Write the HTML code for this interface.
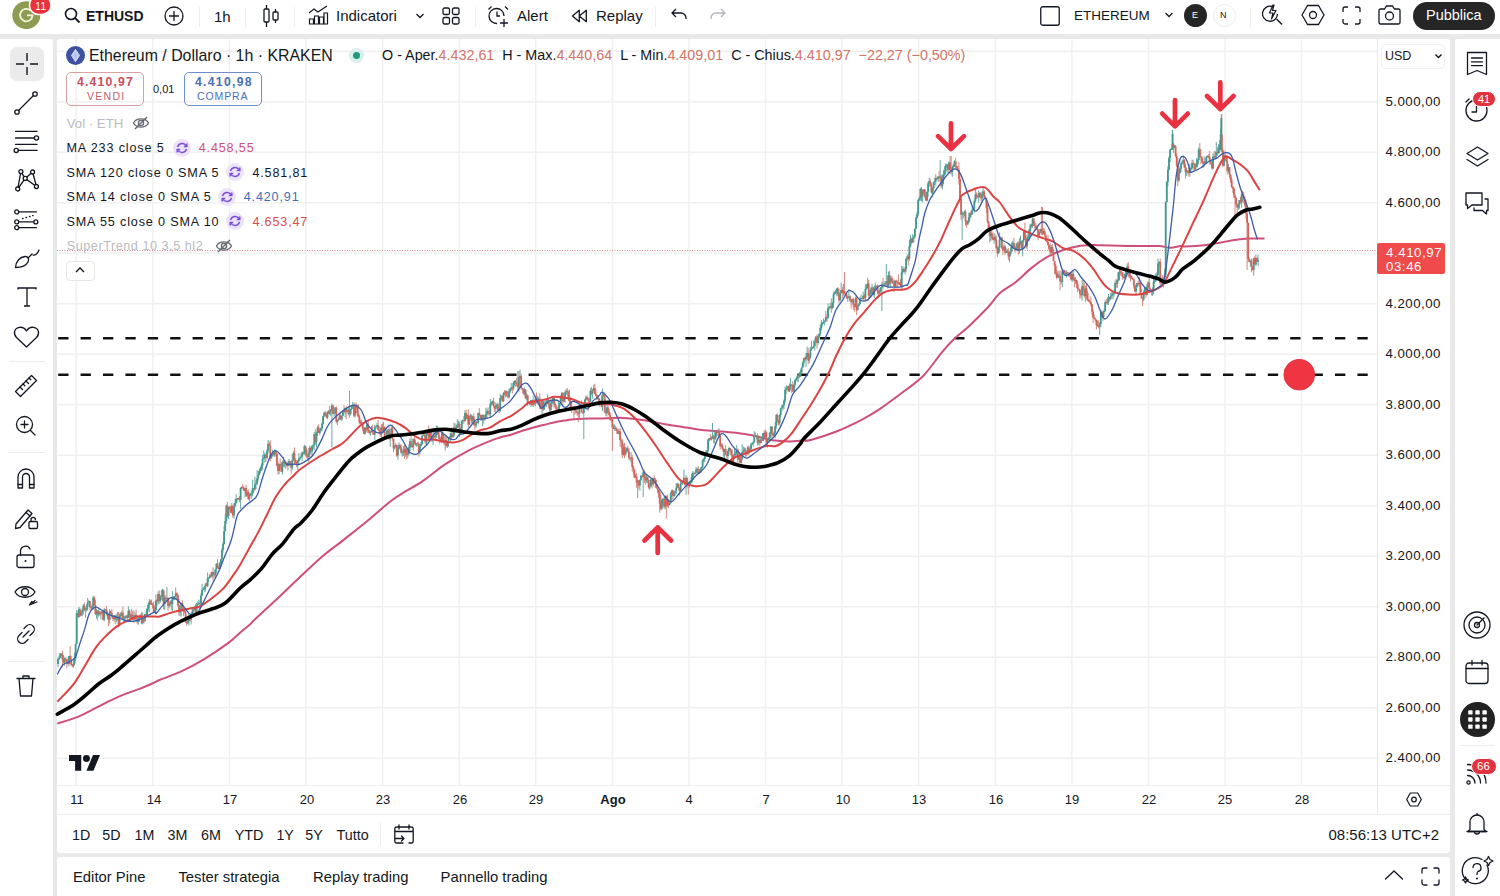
<!DOCTYPE html>
<html><head><meta charset="utf-8">
<style>
*{box-sizing:border-box;margin:0;padding:0}
html,body{width:1500px;height:896px;overflow:hidden;background:#e9e9e9;font-family:"Liberation Sans",sans-serif;color:#131722}
.a{position:absolute}
.t{position:absolute;white-space:nowrap;line-height:1}
.panel{position:absolute;background:#fff}
.ic{position:absolute;overflow:visible}
.ic *{vector-effect:non-scaling-stroke}
</style></head><body>
<!-- panels -->
<div class="panel" style="left:0;top:0;width:1500px;height:34px"></div>
<div class="panel" style="left:0;top:39px;width:53px;height:857px;border-radius:0 3px 0 0"></div>
<div class="panel" style="left:57px;top:39px;width:1393px;height:814px;border-radius:3px"></div>
<div class="panel" style="left:57px;top:857px;width:1393px;height:39px;border-radius:3px 3px 0 0"></div>
<div class="panel" style="left:1455px;top:39px;width:45px;height:857px;border-radius:3px 0 0 0"></div>

<!-- chart svg -->
<svg width="1500" height="896" style="position:absolute;left:0;top:0">
<path d="M76.2,39V785M152.8,39V785M229.4,39V785M306.0,39V785M382.6,39V785M459.2,39V785M535.7,39V785M612.3,39V785M688.9,39V785M765.5,39V785M842.1,39V785M918.7,39V785M995.3,39V785M1071.9,39V785M1148.5,39V785M1225.1,39V785M1301.6,39V785M57,51.2H1377M57,101.7H1377M57,152.2H1377M57,202.7H1377M57,253.2H1377M57,303.8H1377M57,354.3H1377M57,404.8H1377M57,455.3H1377M57,505.8H1377M57,556.3H1377M57,606.8H1377M57,657.3H1377M57,707.8H1377M57,758.3H1377" stroke="#f0f0f0" stroke-width="1.4" fill="none"/>
<path d="M58.2,338.3H1372" stroke="#111" stroke-width="2.4" stroke-dasharray="10.3 12.1" fill="none"/>
<path d="M58.2,374.8H1372" stroke="#111" stroke-width="2.4" stroke-dasharray="10.3 12.1" fill="none"/>
<path d="M57,250.5H1377" stroke="#d98f8f" stroke-width="1" stroke-dasharray="1 1.5" fill="none"/>
<path d="M57.3,723.6 C60.8,722.4 72.3,719.1 78.4,716.6 C84.5,714.1 88.9,711.4 94.1,708.8 C99.3,706.2 104.5,703.4 109.7,700.9 C114.9,698.4 120.1,696.0 125.3,693.9 C130.5,691.8 136.0,690.3 140.9,688.4 C145.8,686.5 151.9,683.6 155.0,682.2 C158.1,680.8 155.0,681.8 159.4,680.0 C163.8,678.2 173.8,674.8 181.3,671.3 C188.9,667.8 196.9,663.5 204.7,658.8 C212.5,654.1 222.1,647.5 228.1,643.1 C234.1,638.7 236.9,635.3 240.6,632.2 C244.2,629.1 247.6,626.6 250.0,624.4 C252.4,622.2 250.3,623.6 255.0,619.2 C259.7,614.8 270.5,605.0 278.0,598.0 C285.5,591.0 292.6,583.9 300.0,577.0 C307.4,570.1 314.9,562.8 322.3,556.5 C329.7,550.2 337.2,545.0 344.6,539.1 C352.1,533.2 359.6,527.4 367.0,521.3 C374.4,515.2 383.8,506.7 389.3,502.3 C394.8,497.9 394.5,498.3 400.0,494.8 C405.5,491.3 414.9,486.4 422.3,481.4 C429.7,476.4 437.2,469.7 444.6,464.7 C452.1,459.7 459.6,455.2 467.0,451.3 C474.4,447.4 483.8,443.6 489.3,441.3 C494.8,439.0 496.4,438.6 500.0,437.5 C503.6,436.4 507.5,435.8 511.2,434.7 C514.9,433.6 518.6,432.0 522.3,430.8 C526.0,429.6 529.8,428.5 533.5,427.5 C537.2,426.5 540.9,425.6 544.6,424.7 C548.3,423.8 552.1,422.6 555.8,421.9 C559.5,421.1 563.3,420.7 567.0,420.2 C570.7,419.7 574.4,419.4 578.1,419.1 C581.8,418.8 585.6,418.6 589.3,418.5 C592.9,418.4 594.5,418.6 600.0,418.5 C605.5,418.4 614.9,417.6 622.3,417.9 C629.7,418.2 637.1,419.1 644.6,420.2 C652.1,421.3 659.5,423.3 667.0,424.6 C674.5,425.9 683.8,427.1 689.3,428.0 C694.8,428.9 694.5,429.1 700.0,429.7 C705.5,430.3 714.9,430.9 722.3,431.6 C729.7,432.3 738.1,433.1 744.6,434.1 C751.1,435.1 756.8,436.5 761.4,437.5 C766.0,438.5 767.9,439.7 772.5,440.3 C777.1,440.9 784.7,441.3 789.3,441.4 C793.9,441.5 796.4,441.0 800.0,440.8 C803.6,440.6 804.8,441.5 810.7,440.0 C816.7,438.5 827.1,435.2 835.7,431.8 C844.3,428.4 855.0,423.2 862.5,419.3 C870.0,415.4 874.1,412.8 880.4,408.6 C886.6,404.4 892.9,399.7 900.0,394.3 C907.1,388.9 916.1,382.9 922.9,376.2 C929.7,369.4 935.7,359.8 940.7,353.8 C945.7,347.8 948.2,344.8 953.1,340.0 C958.0,335.2 964.6,330.4 970.3,325.0 C976.0,319.6 982.5,313.1 987.5,307.8 C992.5,302.5 995.3,297.4 1000.0,293.1 C1004.7,288.8 1010.4,286.4 1015.6,282.2 C1020.8,278.0 1026.1,272.3 1031.3,268.1 C1036.5,263.9 1041.7,260.2 1046.9,257.2 C1052.1,254.2 1057.3,252.0 1062.5,250.2 C1067.7,248.4 1072.9,247.2 1078.1,246.3 C1083.3,245.4 1090.1,245.2 1093.8,245.0 C1097.5,244.8 1093.4,245.1 1100.0,245.3 C1106.6,245.5 1123.7,246.0 1133.5,246.1 C1143.3,246.2 1152.4,245.8 1158.6,246.1 C1164.8,246.4 1166.8,247.8 1170.4,247.8 C1174.0,247.8 1177.9,246.3 1180.4,246.1 C1182.9,245.9 1182.1,246.5 1185.6,246.4 C1189.1,246.3 1196.1,246.1 1201.3,245.6 C1206.5,245.1 1211.7,244.2 1216.9,243.3 C1222.1,242.4 1227.3,241.0 1232.5,240.2 C1237.7,239.4 1242.8,238.9 1248.1,238.6 C1253.4,238.3 1261.8,238.6 1264.5,238.6" stroke="#cf4f7c" stroke-width="2" fill="none"/>
<path d="M58.0,657.7V667.0M59.1,656.2V659.9M60.2,653.2V658.2M64.6,657.4V665.9M69.0,656.1V666.4M73.4,660.6V667.8M74.5,652.6V665.2M75.6,643.8V661.1M76.7,610.0V644.2M78.9,606.9V618.3M81.1,612.4V616.0M82.2,608.4V616.3M83.3,604.0V614.8M86.6,604.4V611.6M87.7,598.0V610.4M88.8,600.1V602.7M92.1,603.6V609.6M93.2,595.6V609.9M96.5,608.9V618.6M98.7,609.1V616.5M100.9,612.7V619.5M102.0,610.2V615.1M104.2,608.1V621.4M105.3,609.1V610.7M109.7,609.1V623.7M114.1,615.2V621.3M116.3,614.0V622.4M117.4,611.9V620.7M119.6,613.3V626.5M120.7,612.2V618.0M121.8,610.7V618.1M124.0,615.4V622.2M125.1,616.0V619.4M126.2,614.9V618.8M128.4,606.3V618.0M131.7,608.8V619.9M135.0,612.6V620.3M138.3,616.7V624.7M139.4,614.7V621.9M142.7,612.4V624.3M144.9,613.9V621.8M147.1,608.2V615.8M148.2,602.8V611.8M149.3,599.0V612.2M154.8,606.9V613.2M155.9,594.4V613.5M158.1,591.3V604.1M160.3,595.6V602.8M161.4,589.8V599.8M162.5,588.9V601.5M164.7,594.9V610.2M166.9,587.0V602.4M169.1,603.1V608.2M170.2,599.9V606.5M172.4,591.1V611.4M174.6,596.0V599.8M175.7,587.5V597.2M180.1,607.9V615.8M181.2,603.1V616.8M187.8,619.0V624.1M188.9,613.6V625.6M191.1,614.9V624.4M192.2,608.8V616.6M193.3,609.3V612.9M194.4,606.5V610.7M196.6,602.9V614.2M197.7,601.5V607.7M198.8,599.5V604.4M201.0,593.1V606.1M202.1,583.8V595.6M203.2,587.4V590.1M204.3,586.1V591.8M205.4,583.0V591.4M207.6,572.4V587.3M208.7,577.2V581.9M209.8,573.8V578.7M212.0,571.4V577.4M215.3,569.3V577.9M216.4,563.1V573.3M219.7,562.1V570.6M220.8,559.2V566.9M221.9,548.2V564.9M223.0,541.9V552.8M224.1,525.9V544.7M225.2,514.3V531.5M226.3,504.5V523.7M228.5,506.7V519.0M231.8,502.9V513.5M234.0,503.2V518.5M235.1,498.7V506.5M236.2,494.3V503.7M237.3,498.0V501.4M240.6,487.5V509.0M241.7,486.5V489.0M245.0,487.8V497.4M247.2,490.2V496.4M249.4,493.1V501.3M250.5,492.8V496.0M251.6,490.5V498.5M252.7,479.7V496.3M254.9,476.6V490.7M256.0,479.7V489.0M257.1,470.0V485.0M258.2,471.0V481.3M259.3,469.0V475.3M260.4,466.9V473.2M261.5,463.6V470.9M262.6,454.9V469.8M263.7,450.5V459.0M264.8,452.5V462.6M267.0,448.9V459.4M268.1,440.0V453.1M271.4,453.8V458.6M272.5,450.1V456.4M274.7,449.4V456.9M279.1,463.1V474.1M282.4,460.5V474.5M284.6,461.4V467.5M287.9,461.1V470.5M289.0,458.9V464.5M292.3,454.0V470.1M293.4,451.1V461.1M297.8,459.9V469.9M298.9,453.1V462.6M300.0,456.9V460.4M301.1,453.1V458.1M302.2,451.4V460.9M304.4,444.7V454.8M308.8,448.0V462.2M309.9,445.5V454.7M312.1,445.2V455.8M313.2,443.5V449.0M314.3,432.0V450.4M316.5,431.6V447.3M317.6,425.9V435.9M319.8,428.7V435.1M320.9,427.3V430.6M322.0,422.4V431.4M323.1,415.8V424.8M324.2,411.6V416.9M327.5,411.4V419.2M329.7,405.6V415.2M330.8,409.2V415.9M331.9,403.5V447.5M334.1,411.9V416.6M335.2,407.0V414.2M337.4,419.9V425.2M338.5,417.7V421.2M339.6,413.4V419.5M341.8,415.8V421.2M342.9,410.4V416.1M345.1,407.5V416.9M347.3,409.2V413.8M348.4,406.8V415.5M350.6,408.8V415.4M351.7,405.5V410.1M352.8,401.8V408.9M355.0,403.6V417.6M361.6,419.8V423.5M364.9,427.2V434.8M367.1,423.2V432.8M370.4,430.8V435.8M371.5,425.9V431.7M374.8,424.6V439.9M375.9,425.8V427.7M377.0,422.9V428.6M381.4,424.1V437.6M383.6,421.9V433.2M385.8,435.7V438.7M386.9,428.2V438.1M388.0,429.4V435.0M390.2,433.4V446.8M391.3,426.9V438.0M394.6,445.0V449.5M395.7,443.1V447.0M397.9,446.4V459.8M399.0,442.3V448.9M402.3,451.4V456.6M403.4,445.9V456.0M405.6,447.5V456.5M407.8,450.3V457.9M408.9,444.5V455.5M410.0,438.6V450.8M413.3,438.7V451.1M416.6,443.0V446.8M419.9,443.8V454.4M421.0,442.0V446.0M422.1,434.6V444.7M423.2,433.2V435.8M426.5,431.6V445.7M427.6,432.8V435.3M429.8,431.4V439.7M432.0,435.9V442.1M433.1,429.0V445.1M435.3,430.9V440.1M436.4,425.5V437.9M437.5,425.9V434.9M441.9,430.2V443.1M445.2,435.9V450.5M447.4,441.1V448.0M448.5,437.2V446.6M450.7,432.7V442.9M452.9,430.6V438.2M454.0,422.8V437.3M456.2,424.5V431.2M457.3,419.1V428.1M458.4,420.6V427.3M460.6,427.6V434.3M461.7,420.5V432.9M462.8,419.8V424.2M465.0,410.4V421.7M467.2,413.9V419.6M469.4,415.8V425.2M470.5,413.9V419.4M472.7,416.1V424.9M476.0,420.8V427.8M478.2,412.6V424.5M481.5,414.6V420.8M482.6,414.6V426.4M484.8,414.7V420.7M485.9,407.5V418.6M487.0,408.9V418.4M490.3,398.8V417.6M491.4,401.6V405.6M492.5,400.7V405.0M495.8,402.4V413.3M496.9,403.6V408.3M500.2,393.9V411.5M501.3,395.1V399.4M503.5,392.2V401.6M505.7,390.7V397.3M509.0,388.3V398.8M510.1,388.7V393.4M511.2,383.0V390.6M513.4,381.4V390.3M514.5,380.2V385.8M518.9,371.0V391.7M520.0,369.6V377.4M524.4,387.5V395.4M526.6,392.9V400.2M531.0,399.8V407.0M533.2,396.3V407.2M535.4,398.1V406.3M538.7,396.7V403.5M542.0,401.1V414.2M544.2,401.0V409.6M545.3,400.2V406.3M546.4,398.6V407.1M547.5,394.5V404.2M550.8,399.2V415.3M551.9,399.3V407.0M553.0,397.6V403.2M558.5,401.2V411.7M559.6,403.2V410.2M560.7,395.2V404.2M561.8,392.4V401.1M564.0,396.9V401.7M565.1,390.4V402.7M566.2,389.0V394.8M572.8,407.9V409.6M579.4,403.3V419.0M580.5,403.7V407.7M583.8,403.7V439.0M584.9,399.1V407.8M586.0,395.6V400.6M590.4,388.3V402.3M592.6,389.0V398.9M593.7,384.8V390.8M598.1,396.3V399.5M600.3,400.4V404.7M602.5,388.7V410.9M606.9,404.7V416.4M611.3,418.6V421.5M614.6,424.4V431.0M619.0,428.7V434.6M623.4,444.3V455.7M625.6,446.9V455.7M626.7,447.3V452.6M631.1,452.0V462.6M635.5,474.2V477.5M637.7,479.4V498.0M639.9,479.7V490.9M641.0,474.8V481.0M643.2,470.4V497.0M646.5,475.2V482.7M649.8,483.1V489.9M650.9,478.5V486.5M653.1,477.8V486.3M661.9,498.3V510.4M663.0,498.0V504.9M665.2,495.6V509.5M667.4,494.4V507.2M669.6,502.0V505.3M670.7,492.2V503.5M671.8,489.5V500.1M674.0,490.6V497.2M675.1,491.6V495.8M676.2,483.0V494.0M677.3,482.8V488.0M680.6,478.6V491.6M681.7,480.1V484.5M682.8,480.7V484.9M683.9,469.6V482.8M686.1,475.0V494.6M689.4,480.9V487.7M690.5,481.2V484.6M691.6,473.7V482.8M692.7,471.2V481.6M694.9,472.5V474.4M696.0,466.8V474.5M697.1,467.6V473.1M699.3,469.1V473.2M700.4,467.1V472.5M701.5,466.8V472.5M702.6,459.4V468.3M703.7,458.1V462.0M704.8,453.3V462.5M705.9,449.9V454.7M707.0,450.5V455.0M708.1,439.2V452.3M709.2,438.0V441.5M711.4,436.6V440.5M712.5,423.0V438.8M714.7,432.1V443.7M715.8,430.7V440.1M718.0,428.9V435.9M721.3,443.4V447.4M724.6,449.1V458.4M727.9,449.6V459.8M729.0,446.7V454.5M733.4,454.5V462.8M734.5,448.7V456.5M735.6,451.0V455.3M736.7,444.9V455.1M738.9,455.7V460.0M741.1,458.9V465.9M742.2,444.2V460.2M743.3,446.4V453.9M744.4,447.5V452.4M747.7,446.0V454.5M749.9,447.4V452.6M751.0,442.7V450.0M752.1,442.9V444.8M753.2,441.1V446.8M754.3,431.2V442.5M756.5,435.0V439.4M758.7,436.7V444.9M760.9,436.7V443.2M763.1,432.9V441.5M765.3,429.4V439.6M767.5,439.1V447.7M768.6,437.1V440.2M769.7,431.9V442.3M770.8,425.9V437.4M774.1,431.7V436.5M775.2,422.0V438.4M776.3,413.9V428.6M779.6,414.4V425.4M780.7,407.7V417.2M781.8,404.7V408.6M782.9,404.6V410.8M784.0,399.6V409.0M785.1,386.9V403.2M786.2,385.1V394.3M787.3,386.4V389.8M789.5,383.5V392.0M790.6,377.7V390.1M793.9,383.6V392.1M795.0,379.5V387.4M796.1,377.8V380.8M797.2,375.4V382.4M798.3,373.1V381.8M800.5,369.6V376.9M801.6,367.6V373.2M802.7,361.6V367.7M803.8,358.0V366.6M806.0,352.8V367.1M807.1,346.6V358.9M809.3,353.6V363.0M810.4,346.9V358.6M811.5,340.7V350.5M812.6,346.9V348.8M813.7,340.4V348.3M814.8,338.2V350.4M815.9,336.6V341.6M818.1,334.8V344.6M819.2,333.3V337.4M820.3,324.8V335.6M821.4,320.0V330.0M822.5,322.1V325.4M823.6,318.4V323.9M824.7,320.6V325.5M825.8,310.9V321.7M828.0,303.4V319.2M829.1,306.8V310.4M830.2,302.9V308.9M832.4,302.1V309.3M833.5,291.7V307.6M834.6,291.8V294.7M835.7,290.2V293.9M836.8,288.4V296.5M840.1,291.5V301.0M841.2,282.8V293.6M843.4,283.8V295.7M847.8,295.8V302.0M848.9,289.1V298.5M852.2,298.9V303.6M855.5,296.7V307.4M857.7,305.2V310.7M858.8,302.6V306.2M859.9,296.8V304.4M861.0,294.6V300.8M863.2,291.5V301.2M865.4,284.2V300.4M866.5,284.2V289.9M867.6,277.8V288.1M869.8,290.8V298.0M870.9,287.2V298.0M872.0,283.7V293.5M874.2,286.4V298.2M875.3,282.6V290.7M879.7,288.5V293.9M880.8,287.0V291.6M881.9,281.8V311.0M884.1,281.2V286.6M885.2,282.9V286.4M886.3,264.0V284.8M888.5,271.5V288.0M890.7,275.6V288.1M895.1,280.1V287.1M899.5,282.5V285.1M901.7,265.8V288.9M902.8,266.4V274.4M905.0,267.0V274.5M906.1,257.8V272.5M907.2,254.4V260.7M909.4,239.9V260.9M910.5,235.1V247.2M912.7,234.2V242.9M913.8,235.3V242.5M914.9,228.7V238.7M916.0,216.6V229.2M917.1,211.3V218.6M918.2,198.8V215.9M919.3,196.6V201.3M920.4,187.8V200.7M922.6,189.3V202.4M923.7,189.4V194.5M927.0,191.3V201.4M928.1,181.5V196.7M929.2,177.6V186.7M932.5,187.4V197.2M933.6,181.7V191.5M934.7,177.7V184.8M935.8,174.2V185.8M938.0,176.4V181.7M940.2,160.0V181.0M942.4,174.4V189.4M943.5,169.9V184.0M944.6,166.3V175.8M945.7,163.4V174.0M946.8,163.8V167.7M949.0,161.5V172.7M952.3,165.8V176.8M953.4,163.9V168.7M954.5,160.4V167.0M962.2,211.2V240.0M963.3,212.7V218.4M964.4,210.3V216.2M967.7,220.2V224.5M968.8,212.8V223.3M969.9,212.3V220.3M972.1,206.6V214.6M973.2,208.0V210.6M974.3,199.6V213.2M975.4,189.4V202.8M978.7,190.7V203.0M982.0,191.6V202.9M983.1,186.1V195.0M990.8,229.9V241.2M994.1,232.8V243.9M998.5,246.7V253.7M999.6,232.3V252.2M1000.7,236.3V239.8M1004.0,243.6V251.2M1006.2,248.4V252.7M1009.5,251.4V262.3M1010.6,247.3V256.3M1011.7,241.7V251.5M1012.8,240.7V248.4M1016.1,243.3V251.1M1017.2,241.9V250.7M1019.4,238.1V253.4M1020.5,235.8V244.8M1022.7,239.8V256.3M1023.8,230.6V242.2M1027.1,234.6V249.4M1028.2,234.2V240.8M1029.3,229.2V240.7M1030.4,223.7V235.8M1032.6,217.3V227.8M1039.2,232.3V235.8M1040.3,228.7V233.3M1043.6,228.2V234.4M1051.3,245.0V256.2M1057.9,271.2V277.8M1062.3,271.3V287.1M1063.4,269.4V272.5M1066.7,270.1V277.8M1070.0,272.3V277.7M1072.2,272.4V282.0M1075.5,277.2V283.5M1082.1,280.0V300.6M1085.4,285.5V301.8M1099.7,322.2V335.0M1100.8,311.2V327.1M1103.0,310.9V320.9M1104.1,309.0V316.6M1105.2,300.2V312.0M1107.4,298.1V304.9M1108.5,293.9V304.9M1110.7,292.6V300.3M1111.8,292.0V296.8M1112.9,291.4V299.2M1114.0,290.2V296.7M1115.1,280.5V293.1M1117.3,279.6V288.0M1118.4,272.0V281.4M1119.5,267.4V280.5M1125.0,273.2V279.1M1126.1,269.4V276.5M1127.2,263.4V273.6M1136.0,283.7V295.7M1137.1,282.7V287.4M1139.3,276.9V287.0M1143.7,290.4V301.0M1144.8,286.9V294.3M1147.0,284.0V295.4M1148.1,281.5V287.1M1152.5,287.4V295.6M1153.6,277.5V294.3M1154.7,278.2V283.6M1155.8,273.1V282.0M1156.9,271.7V280.7M1158.0,258.5V278.0M1159.1,261.8V266.2M1161.3,277.7V284.4M1163.5,277.4V287.4M1164.6,268.5V279.6M1165.7,201.4V277.0M1166.8,180.9V202.2M1167.9,166.2V186.2M1169.0,156.3V170.5M1170.1,148.6V162.0M1171.2,148.4V150.0M1172.3,130.0V150.0M1174.5,144.8V148.2M1178.9,168.0V182.0M1180.0,166.0V173.7M1181.1,161.5V171.8M1182.2,160.4V164.5M1183.3,155.3V164.6M1186.6,167.6V176.0M1189.9,163.8V176.4M1191.0,167.0V172.8M1192.1,159.8V169.9M1195.4,163.3V169.4M1196.5,157.9V167.3M1197.6,158.9V167.4M1198.7,147.4V164.6M1204.2,156.3V166.7M1206.4,155.6V164.0M1207.5,155.3V157.6M1213.0,153.3V169.6M1215.2,151.2V157.7M1216.3,142.0V158.4M1218.5,144.4V153.9M1219.6,139.8V153.2M1220.7,127.6V147.1M1224.0,153.3V166.3M1228.4,164.2V173.0M1238.3,202.5V210.1M1239.4,200.0V208.8M1241.6,190.0V207.6M1250.4,260.1V266.7M1253.7,257.9V275.6M1255.9,254.6V265.9M1258.1,254.6V266.1M1221.3,114.0V152.0M1172.6,130.0V150.0" stroke="#5aa097" stroke-width="0.9" fill="none"/>
<path d="M61.3,653.1V656.0M62.4,650.5V667.5M63.5,655.0V663.2M65.7,657.7V661.6M66.8,658.9V668.2M67.9,658.6V664.6M70.1,646.2V659.8M71.2,655.6V665.3M72.3,664.2V667.2M77.8,611.1V617.3M80.0,608.0V617.0M84.4,602.6V611.3M85.5,608.0V617.9M89.9,600.8V609.6M91.0,605.8V609.9M94.3,596.5V606.5M95.4,599.7V615.0M97.6,610.0V620.5M99.8,611.1V616.1M103.1,609.6V620.5M106.4,606.0V615.3M107.5,610.9V619.3M108.6,614.4V626.4M110.8,610.8V613.7M111.9,609.2V618.7M113.0,616.1V620.9M115.2,615.6V624.2M118.5,612.0V627.5M122.9,606.6V619.6M127.3,614.5V621.3M129.5,609.4V619.5M130.6,613.5V621.3M132.8,610.8V620.6M133.9,610.4V622.8M136.1,609.5V618.8M137.2,614.8V624.1M140.5,614.2V619.4M141.6,612.1V624.3M143.8,617.2V623.5M146.0,611.6V616.1M150.4,599.8V604.7M151.5,599.5V604.9M152.6,602.8V608.3M153.7,601.5V612.0M157.0,598.8V606.0M159.2,590.4V604.3M163.6,589.4V609.4M165.8,595.5V601.8M168.0,597.0V610.7M171.3,600.6V609.7M173.5,596.0V600.4M176.8,592.3V599.2M177.9,593.3V606.6M179.0,599.0V616.2M182.3,600.1V608.8M183.4,604.8V616.2M184.5,608.6V613.3M185.6,610.7V622.7M186.7,617.2V625.5M190.0,614.9V621.8M195.5,603.9V614.3M199.9,600.5V610.2M206.5,582.5V586.1M210.9,572.2V577.7M213.1,567.2V581.9M214.2,573.6V578.4M217.5,559.2V568.3M218.6,566.3V569.1M227.4,502.0V517.7M229.6,505.8V510.2M230.7,505.5V512.9M232.9,504.7V517.9M238.4,497.6V500.1M239.5,496.0V502.2M242.8,484.0V489.5M243.9,486.1V491.0M246.1,484.7V497.1M248.3,489.6V500.0M253.8,487.9V492.2M265.9,453.8V462.0M269.2,441.7V445.7M270.3,440.3V461.3M273.6,452.5V456.4M275.8,451.1V456.4M276.9,453.0V466.5M278.0,461.7V474.7M280.2,458.4V468.7M281.3,463.1V471.8M283.5,456.9V466.5M285.7,460.4V468.9M286.8,463.0V466.6M290.1,460.7V467.3M291.2,461.3V473.7M294.5,447.5V464.1M295.6,458.5V464.5M296.7,460.6V467.2M303.3,452.1V454.8M305.5,445.7V456.4M306.6,447.9V458.3M307.7,453.9V459.0M311.0,446.8V454.9M315.4,429.1V444.4M318.7,424.5V433.0M325.3,411.2V416.4M326.4,413.1V418.1M328.6,409.9V413.6M333.0,404.6V414.0M336.3,406.4V423.3M340.7,411.4V420.0M344.0,405.2V412.7M346.2,406.2V419.1M349.5,391.0V417.7M353.9,402.6V417.4M356.1,402.6V407.2M357.2,404.8V416.5M358.3,404.2V417.4M359.4,414.9V424.2M360.5,419.9V424.0M362.7,422.1V431.1M363.8,427.1V434.1M366.0,426.8V432.2M368.2,421.0V432.6M369.3,429.9V434.3M372.6,424.7V434.9M373.7,432.4V434.9M378.1,420.0V430.0M379.2,426.0V433.8M380.3,427.9V436.7M382.5,423.4V431.1M384.7,426.1V439.3M389.1,426.0V440.0M392.4,424.7V440.7M393.5,438.9V452.2M396.8,444.4V456.9M400.1,443.9V450.6M401.2,445.0V454.4M404.5,445.0V458.9M406.7,447.6V459.4M411.1,435.3V448.0M412.2,444.4V448.0M414.4,436.6V444.6M415.5,440.3V445.8M417.7,441.9V445.9M418.8,441.8V456.4M424.3,433.9V438.2M425.4,433.2V443.8M428.7,425.5V441.1M430.9,430.2V441.5M434.2,432.1V437.9M438.6,427.7V439.1M439.7,435.5V443.4M440.8,437.2V442.7M443.0,430.6V440.8M444.1,436.5V445.2M446.3,436.7V447.3M449.6,435.9V439.2M451.8,427.4V437.8M455.1,423.3V431.9M459.5,421.8V437.0M463.9,416.0V423.7M466.1,409.6V419.5M468.3,409.3V427.5M471.6,414.7V423.5M473.8,413.6V425.5M474.9,422.3V430.6M477.1,421.0V423.0M479.3,408.2V416.4M480.4,414.5V420.5M483.7,414.7V423.5M488.1,407.4V414.4M489.2,410.9V416.2M493.6,397.8V407.5M494.7,405.7V412.1M498.0,402.4V411.6M499.1,409.1V413.2M502.4,395.1V401.8M504.6,390.1V395.7M506.8,390.2V396.3M507.9,395.6V397.7M512.3,386.5V393.5M515.6,380.0V386.8M516.7,377.7V386.3M517.8,371.0V390.4M521.1,373.4V389.6M522.2,387.3V390.6M523.3,388.6V394.9M525.5,389.3V399.3M527.7,394.4V406.0M528.8,401.7V404.0M529.9,402.5V404.9M532.1,399.9V405.7M534.3,400.5V405.3M536.5,392.5V403.6M537.6,396.1V404.5M539.8,393.4V409.1M540.9,402.7V409.3M543.1,400.0V411.2M548.6,399.2V407.7M549.7,402.3V414.2M554.1,397.8V408.3M555.2,402.3V407.2M556.3,404.8V409.3M557.4,408.7V410.6M562.9,392.6V406.2M567.3,388.0V395.3M568.4,390.3V401.2M569.5,389.8V403.8M570.6,397.5V410.7M571.7,401.4V413.2M573.9,406.9V418.5M575.0,407.2V414.5M576.1,409.0V413.6M577.2,406.3V416.0M578.3,411.9V422.2M581.6,400.4V412.3M582.7,412.0V413.8M587.1,395.3V400.1M588.2,397.5V410.7M589.3,398.1V404.0M591.5,386.9V394.8M594.8,383.8V394.2M595.9,389.0V396.7M597.0,394.1V399.4M599.2,398.2V407.0M601.4,395.3V407.5M603.6,392.0V396.2M604.7,392.3V412.8M605.8,409.3V416.2M608.0,405.6V413.5M609.1,409.1V416.4M610.2,412.8V420.4M612.4,417.1V451.0M613.5,424.5V429.1M615.7,425.8V430.8M616.8,427.5V434.1M617.9,428.8V434.0M620.1,428.1V446.7M621.2,438.4V447.4M622.3,439.2V458.2M624.5,442.8V458.1M627.8,445.8V452.8M628.9,448.1V459.7M630.0,457.3V461.0M632.2,455.0V471.7M633.3,464.9V474.1M634.4,469.4V478.4M636.6,472.7V487.8M638.8,480.5V488.7M642.1,475.1V477.7M644.3,470.4V482.9M645.4,473.5V484.8M647.6,476.4V483.4M648.7,479.3V488.8M652.0,479.2V488.5M654.2,475.3V482.2M655.3,477.8V487.8M656.4,479.9V488.3M657.5,484.4V493.1M658.6,489.5V497.8M659.7,490.3V512.7M660.8,494.5V510.2M664.1,496.1V508.6M666.3,495.5V518.6M668.5,498.9V508.1M672.9,489.4V500.3M678.4,483.3V489.8M679.5,487.1V495.3M685.0,477.6V486.7M687.2,476.8V487.6M688.3,482.2V494.7M693.8,471.5V480.0M698.2,466.0V473.9M710.3,433.9V440.3M713.6,434.9V443.3M716.9,432.0V435.4M719.1,428.3V437.3M720.2,434.2V449.6M722.4,443.5V450.1M723.5,448.1V456.8M725.7,445.1V454.9M726.8,454.0V458.3M730.1,448.1V451.5M731.2,449.2V455.5M732.3,449.5V464.9M737.8,448.5V466.0M740.0,454.1V463.1M745.5,447.7V456.7M746.6,451.6V456.3M748.8,445.6V455.3M755.4,432.4V436.9M757.6,433.4V445.5M759.8,437.4V445.8M762.0,437.3V440.9M764.2,430.4V437.7M766.4,431.2V446.1M771.9,426.2V439.9M773.0,431.5V436.7M777.4,413.6V421.7M778.5,419.9V425.5M788.4,385.3V391.7M791.7,384.0V393.1M792.8,381.2V392.0M799.4,371.9V378.3M804.9,356.7V361.4M808.2,347.7V364.0M817.0,334.4V348.7M826.9,314.7V322.2M831.3,298.2V312.8M837.9,287.1V295.9M839.0,289.0V302.8M842.3,287.2V298.5M844.5,272.0V294.6M845.6,292.5V295.5M846.7,292.0V299.0M850.0,295.2V302.4M851.1,299.7V308.5M853.3,297.5V309.8M854.4,304.1V311.6M856.6,295.8V315.2M862.1,297.6V299.7M864.3,293.8V299.5M868.7,279.8V300.5M873.1,287.3V296.3M876.4,285.7V287.2M877.5,284.5V294.2M878.6,289.8V297.7M883.0,277.9V288.6M887.4,275.4V288.5M889.6,270.9V285.1M891.8,275.9V282.0M892.9,278.7V283.8M894.0,279.6V292.2M896.2,279.5V288.0M897.3,280.2V287.3M898.4,274.3V285.2M900.6,278.8V287.2M903.9,267.3V271.8M908.3,253.8V265.4M911.6,237.9V243.6M921.5,187.0V201.1M924.8,189.3V198.3M925.9,194.8V201.1M930.3,178.7V186.7M931.4,182.8V193.7M936.9,177.3V179.7M939.1,170.6V182.1M941.3,174.6V188.0M947.9,164.0V173.1M950.1,155.9V173.7M951.2,156.0V174.5M955.6,157.9V168.6M956.7,165.7V169.0M957.8,165.9V171.1M958.9,161.8V184.7M960.0,172.8V202.6M961.1,196.5V219.9M965.5,209.6V225.6M966.6,220.6V227.8M971.0,210.1V218.0M976.5,192.3V198.9M977.6,195.6V198.3M979.8,192.0V197.5M980.9,192.3V201.0M984.2,190.0V198.6M985.3,195.7V199.7M986.4,197.8V212.9M987.5,204.0V223.1M988.6,221.2V229.9M989.7,224.7V242.4M991.9,228.8V240.0M993.0,235.2V240.4M995.2,234.5V241.0M996.3,235.9V249.3M997.4,245.8V257.0M1001.8,237.0V249.3M1002.9,245.9V255.0M1005.1,244.8V254.9M1007.3,248.9V253.2M1008.4,248.1V260.0M1013.9,237.8V247.9M1015.0,245.5V252.5M1018.3,241.2V254.4M1021.6,241.3V248.9M1024.9,222.5V240.4M1026.0,235.1V248.3M1031.5,223.7V227.6M1033.7,218.2V225.8M1034.8,221.1V231.0M1035.9,222.7V228.4M1037.0,224.9V230.2M1038.1,229.0V240.3M1041.4,207.0V235.2M1042.5,207.0V235.3M1044.7,228.6V236.6M1045.8,233.5V241.4M1046.9,238.8V242.4M1048.0,235.4V245.4M1049.1,244.1V251.1M1050.2,243.4V255.0M1052.4,243.9V252.9M1053.5,249.0V261.1M1054.6,260.8V274.2M1055.7,263.9V275.2M1056.8,270.0V279.4M1059.0,270.9V277.5M1060.1,270.4V290.0M1061.2,280.6V284.3M1064.5,269.7V273.2M1065.6,271.0V275.2M1067.8,272.0V273.9M1068.9,271.9V277.1M1071.1,272.5V280.7M1073.3,269.9V280.5M1074.4,276.9V287.4M1076.6,279.5V287.9M1077.7,281.1V292.0M1078.8,288.2V291.0M1079.9,288.7V298.7M1081.0,293.3V298.3M1083.2,280.3V291.6M1084.3,282.7V297.7M1086.5,284.2V299.6M1087.6,290.9V301.2M1088.7,299.5V302.2M1089.8,299.4V303.6M1090.9,296.5V306.1M1092.0,304.0V314.9M1093.1,309.6V323.1M1094.2,314.1V318.8M1095.3,317.6V321.8M1096.4,319.5V329.4M1097.5,320.3V326.6M1098.6,320.5V328.3M1101.9,310.3V318.3M1106.3,298.9V303.9M1109.6,296.8V300.6M1116.2,278.7V287.3M1120.6,268.8V275.6M1121.7,271.2V276.5M1122.8,272.0V280.1M1123.9,276.4V278.3M1128.3,262.2V277.3M1129.4,272.2V278.2M1130.5,271.5V281.4M1131.6,275.5V279.2M1132.7,277.5V279.8M1133.8,278.2V288.6M1134.9,284.7V291.9M1138.2,280.9V285.7M1140.4,281.6V292.0M1141.5,289.3V292.0M1142.6,297.4V306.3M1145.9,287.6V297.7M1149.2,277.6V293.1M1150.3,287.5V291.1M1151.4,289.1V295.5M1160.2,258.7V285.6M1162.4,275.4V283.3M1173.4,143.3V152.8M1175.6,145.0V157.3M1176.7,153.5V167.4M1177.8,158.0V186.2M1184.4,158.9V168.1M1185.5,163.5V178.6M1187.7,170.1V174.2M1188.8,167.1V176.8M1193.2,159.7V164.3M1194.3,162.8V170.2M1199.8,143.2V157.2M1200.9,149.0V164.2M1202.0,156.0V163.4M1203.1,161.2V168.0M1205.3,158.6V164.0M1208.6,154.0V158.4M1209.7,150.9V164.4M1210.8,160.5V164.8M1211.9,163.0V169.7M1214.1,151.3V157.9M1217.4,147.0V155.6M1221.8,114.0V152.1M1222.9,148.6V167.2M1225.1,150.5V160.1M1226.2,156.4V162.0M1227.3,155.2V174.5M1229.5,167.0V177.7M1230.6,173.9V183.2M1231.7,177.4V187.9M1232.8,186.1V192.9M1233.9,186.6V198.2M1235.0,193.6V219.0M1236.1,197.5V206.0M1237.2,204.0V213.7M1240.5,196.8V203.5M1242.7,190.9V201.9M1243.8,192.0V203.2M1244.9,196.4V207.0M1246.0,199.8V218.5M1247.1,210.7V270.0M1248.2,222.6V261.8M1249.3,257.2V262.4M1251.5,258.6V272.3M1252.6,266.4V270.7M1254.8,256.1V264.5M1257.0,257.3V262.3" stroke="#cf7a72" stroke-width="0.9" fill="none"/>
<path d="M58.0,658.9V664.0M59.1,657.9V658.9M60.2,653.5V657.9M64.6,658.5V662.2M69.0,656.1V664.0M73.4,663.7V666.1M74.5,658.2V663.7M75.6,643.8V658.2M76.7,613.0V643.8M78.9,609.2V616.9M81.1,613.2V615.4M82.2,610.2V613.2M83.3,605.8V610.2M86.6,606.8V610.0M87.7,602.2V606.8M88.8,601.2V602.2M92.1,606.0V607.9M93.2,597.8V606.0M96.5,610.8V614.0M98.7,611.6V614.6M100.9,613.0V614.0M102.0,611.6V613.0M104.2,610.2V619.6M105.3,609.2V610.2M109.7,611.6V619.9M114.1,615.6V618.7M116.3,618.0V619.5M117.4,617.0V618.0M119.6,615.9V623.9M120.7,614.3V615.9M121.8,612.7V614.3M124.0,618.3V619.3M125.1,616.7V618.3M126.2,615.7V616.7M128.4,610.8V618.0M131.7,614.7V617.6M135.0,615.2V619.6M138.3,618.3V621.8M139.4,616.8V618.3M142.7,618.4V623.1M144.9,614.1V621.2M147.1,608.8V615.1M148.2,605.1V608.8M149.3,601.6V605.1M154.8,609.9V611.5M155.9,600.4V609.9M158.1,594.1V601.4M160.3,596.8V601.1M161.4,595.3V596.8M162.5,590.4V595.3M164.7,597.7V604.2M166.9,598.0V599.0M169.1,604.4V605.8M170.2,601.5V604.4M172.4,597.8V604.1M174.6,596.4V599.3M175.7,593.2V596.4M180.1,609.0V612.3M181.2,603.1V609.0M187.8,621.0V623.3M188.9,618.7V621.0M191.1,615.6V619.8M192.2,611.3V615.6M193.3,609.5V611.3M194.4,606.6V609.5M196.6,604.9V613.1M197.7,603.9V604.9M198.8,602.9V603.9M201.0,595.5V604.2M202.1,590.1V595.5M203.2,589.1V590.1M204.3,587.6V589.1M205.4,584.5V587.6M207.6,578.4V585.9M208.7,577.4V578.4M209.8,575.6V577.4M212.0,572.1V576.6M215.3,569.6V575.2M216.4,563.8V569.6M219.7,562.7V568.9M220.8,559.2V562.7M221.9,549.9V559.2M223.0,544.1V549.9M224.1,531.3V544.1M225.2,520.9V531.3M226.3,505.7V520.9M228.5,506.9V516.0M231.8,506.1V512.7M234.0,506.5V515.6M235.1,503.0V506.5M236.2,499.1V503.0M237.3,498.1V499.1M240.6,487.9V500.1M241.7,486.9V487.9M245.0,487.9V490.7M247.2,491.9V495.4M249.4,495.6V499.0M250.5,494.5V495.6M251.6,493.5V494.5M252.7,488.3V493.5M254.9,484.6V489.6M256.0,483.4V484.6M257.1,478.2V483.4M258.2,474.7V478.2M259.3,470.9V474.7M260.4,468.1V470.9M261.5,465.2V468.1M262.6,458.9V465.2M263.7,457.9V458.9M264.8,454.7V457.9M267.0,450.7V457.9M268.1,443.7V450.7M271.4,454.1V458.2M272.5,453.1V454.1M274.7,451.4V454.7M279.1,463.9V471.0M282.4,462.0V471.7M284.6,462.0V463.0M287.9,462.7V466.0M289.0,461.2V462.7M292.3,460.2V467.6M293.4,453.2V460.2M297.8,461.1V464.9M298.9,458.6V461.1M300.0,457.6V458.6M301.1,456.6V457.6M302.2,452.4V456.6M304.4,446.2V453.7M308.8,453.0V457.1M309.9,447.7V453.0M312.1,446.0V451.2M313.2,445.0V446.0M314.3,433.9V445.0M316.5,432.9V442.0M317.6,427.4V432.9M319.8,430.4V432.9M320.9,428.3V430.4M322.0,423.8V428.3M323.1,416.2V423.8M324.2,412.7V416.2M327.5,411.7V417.3M329.7,410.9V413.5M330.8,409.5V410.9M331.9,405.5V409.5M334.1,412.8V413.8M335.2,407.6V412.8M337.4,420.1V421.5M338.5,419.1V420.1M339.6,415.6V419.1M341.8,415.9V419.5M342.9,410.4V415.9M345.1,408.1V412.2M347.3,410.8V411.8M348.4,409.8V410.8M350.6,409.0V414.1M351.7,406.0V409.0M352.8,405.0V406.0M355.0,405.5V415.5M361.6,422.4V423.4M364.9,427.8V433.7M367.1,424.5V430.1M370.4,431.4V433.0M371.5,430.2V431.4M374.8,427.3V434.6M375.9,426.3V427.3M377.0,425.3V426.3M381.4,427.0V434.6M383.6,427.5V430.8M385.8,436.8V437.8M386.9,430.7V436.8M388.0,429.7V430.7M390.2,434.3V438.9M391.3,428.6V434.3M394.6,446.7V448.3M395.7,445.0V446.7M397.9,448.7V455.5M399.0,445.0V448.7M402.3,451.7V452.7M403.4,449.6V451.7M405.6,449.4V452.9M407.8,453.8V454.8M408.9,447.2V453.8M410.0,441.2V447.2M413.3,439.1V447.0M416.6,443.6V444.6M419.9,445.9V452.0M421.0,444.0V445.9M422.1,435.7V444.0M423.2,434.7V435.7M426.5,434.0V442.6M427.6,433.0V434.0M429.8,431.7V437.8M432.0,438.3V440.3M433.1,436.2V438.3M435.3,434.7V437.2M436.4,431.4V434.7M437.5,428.9V431.4M441.9,433.3V440.0M445.2,440.1V443.3M447.4,441.2V446.0M448.5,437.2V441.2M450.7,433.3V439.2M452.9,435.4V437.0M454.0,427.3V435.4M456.2,427.9V430.4M457.3,424.9V427.9M458.4,423.9V424.9M460.6,430.8V433.5M461.7,421.1V430.8M462.8,419.9V421.1M465.0,413.1V420.9M467.2,415.2V419.1M469.4,417.3V424.6M470.5,415.4V417.3M472.7,416.5V420.9M476.0,421.9V425.4M478.2,412.9V422.9M481.5,416.6V419.2M482.6,415.1V416.6M484.8,417.0V418.6M485.9,414.3V417.0M487.0,410.9V414.3M490.3,404.0V414.2M491.4,402.3V404.0M492.5,401.3V402.3M495.8,405.5V408.8M496.9,404.5V405.5M500.2,398.1V411.0M501.3,396.2V398.1M503.5,392.7V401.3M505.7,391.2V393.7M509.0,391.2V397.2M510.1,389.4V391.2M511.2,387.4V389.4M513.4,383.1V388.8M514.5,380.9V383.1M518.9,377.0V387.2M520.0,376.0V377.0M524.4,389.4V393.2M526.6,395.5V397.9M531.0,399.9V404.4M533.2,401.5V405.1M535.4,398.9V403.6M538.7,398.8V402.3M542.0,401.2V408.9M544.2,405.5V409.6M545.3,403.1V405.5M546.4,402.1V403.1M547.5,399.8V402.1M550.8,403.5V409.9M551.9,401.5V403.5M553.0,397.8V401.5M558.5,406.2V410.2M559.6,403.4V406.2M560.7,397.4V403.4M561.8,392.7V397.4M564.0,399.3V401.4M565.1,392.2V399.3M566.2,391.2V392.2M572.8,408.0V409.0M579.4,406.2V413.8M580.5,404.8V406.2M583.8,404.4V413.2M584.9,399.6V404.4M586.0,397.3V399.6M590.4,391.1V401.4M592.6,390.7V393.4M593.7,388.0V390.7M598.1,398.3V399.3M600.3,400.7V401.7M602.5,394.7V406.5M606.9,407.5V413.2M611.3,419.2V420.2M614.6,427.7V429.0M619.0,431.3V433.5M623.4,447.3V454.8M625.6,449.5V454.3M626.7,448.5V449.5M631.1,457.7V458.7M635.5,476.4V477.4M637.7,480.5V482.5M639.9,479.7V485.4M641.0,475.8V479.7M643.2,472.2V476.8M646.5,476.9V480.3M649.8,485.9V487.5M650.9,479.4V485.9M653.1,478.1V484.3M661.9,499.9V508.4M663.0,498.9V499.9M665.2,495.9V506.8M667.4,500.3V505.8M669.6,503.2V505.1M670.7,493.2V503.2M671.8,490.6V493.2M674.0,492.6V495.9M675.1,491.6V492.6M676.2,487.7V491.6M677.3,484.1V487.7M680.6,483.9V490.9M681.7,482.9V483.9M682.8,481.3V482.9M683.9,477.7V481.3M686.1,478.2V484.7M689.4,483.7V485.8M690.5,482.7V483.7M691.6,477.1V482.7M692.7,473.0V477.1M694.9,473.0V474.0M696.0,469.7V473.0M697.1,468.7V469.7M699.3,471.6V473.0M700.4,469.3V471.6M701.5,467.4V469.3M702.6,460.6V467.4M703.7,459.1V460.6M704.8,454.0V459.1M705.9,453.0V454.0M707.0,450.6V453.0M708.1,439.6V450.6M709.2,438.1V439.6M711.4,437.4V439.4M712.5,436.2V437.4M714.7,437.6V439.0M715.8,432.1V437.6M718.0,431.2V433.1M721.3,445.2V446.2M724.6,449.1V451.9M727.9,450.9V455.9M729.0,448.1V450.9M733.4,455.9V462.3M734.5,454.3V455.9M735.6,453.3V454.3M736.7,449.7V453.3M738.9,456.1V459.5M741.1,459.2V462.8M742.2,452.0V459.2M743.3,451.0V452.0M744.4,449.8V451.0M747.7,447.4V454.1M749.9,449.2V451.7M751.0,444.6V449.2M752.1,443.6V444.6M753.2,442.3V443.6M754.3,435.8V442.3M756.5,435.8V436.8M758.7,439.7V442.4M760.9,439.4V442.9M763.1,433.0V440.4M765.3,432.2V437.0M767.5,439.7V442.8M768.6,438.6V439.7M769.7,433.1V438.6M770.8,426.7V433.1M774.1,432.9V435.5M775.2,425.9V432.9M776.3,415.0V425.9M779.6,415.0V423.2M780.7,408.3V415.0M781.8,407.3V408.3M782.9,405.2V407.3M784.0,400.8V405.2M785.1,389.8V400.8M786.2,388.8V389.8M787.3,386.4V388.8M789.5,386.3V391.2M790.6,384.8V386.3M793.9,384.8V391.3M795.0,380.1V384.8M796.1,378.6V380.1M797.2,376.4V378.6M798.3,375.4V376.4M800.5,372.4V376.4M801.6,367.6V372.4M802.7,362.8V367.6M803.8,358.3V362.8M806.0,356.8V359.5M807.1,353.1V356.8M809.3,357.4V360.5M810.4,349.6V357.4M811.5,348.2V349.6M812.6,347.2V348.2M813.7,345.9V347.2M814.8,341.5V345.9M815.9,336.6V341.5M818.1,337.1V343.1M819.2,333.7V337.1M820.3,327.9V333.7M821.4,323.8V327.9M822.5,322.8V323.8M823.6,321.8V322.8M824.7,320.8V321.8M825.8,317.0V320.8M828.0,308.2V318.0M829.1,307.0V308.2M830.2,306.0V307.0M832.4,303.1V308.0M833.5,294.5V303.1M834.6,293.5V294.5M835.7,290.4V293.5M836.8,288.4V290.4M840.1,293.0V300.3M841.2,289.9V293.0M843.4,291.0V292.9M847.8,297.2V298.2M848.9,296.2V297.2M852.2,299.0V301.7M855.5,298.6V307.0M857.7,306.0V310.1M858.8,304.2V306.0M859.9,298.9V304.2M861.0,297.9V298.9M863.2,295.7V298.9M865.4,289.1V297.7M866.5,287.4V289.1M867.6,283.5V287.4M869.8,293.8V295.5M870.9,289.5V293.8M872.0,287.6V289.5M874.2,289.0V295.0M875.3,285.8V289.0M879.7,290.9V293.4M880.8,287.4V290.9M881.9,284.4V287.4M884.1,284.5V285.5M885.2,283.2V284.5M886.3,281.0V283.2M888.5,275.4V285.8M890.7,278.0V283.2M895.1,280.8V286.3M899.5,282.6V284.1M901.7,272.3V285.9M902.8,269.1V272.3M905.0,269.1V271.5M906.1,259.0V269.1M907.2,256.6V259.0M909.4,245.9V258.8M910.5,239.1V245.9M912.7,237.7V242.4M913.8,236.7V237.7M914.9,228.7V236.7M916.0,217.7V228.7M917.1,213.9V217.7M918.2,200.1V213.9M919.3,198.4V200.1M920.4,189.0V198.4M922.6,190.8V196.4M923.7,189.4V190.8M927.0,192.1V200.5M928.1,183.6V192.1M929.2,181.3V183.6M932.5,188.0V192.6M933.6,182.3V188.0M934.7,181.3V182.3M935.8,178.0V181.3M938.0,176.5V179.0M940.2,176.5V177.5M942.4,180.3V186.3M943.5,174.9V180.3M944.6,171.6V174.9M945.7,165.5V171.6M946.8,164.5V165.5M949.0,162.5V169.9M952.3,167.2V172.2M953.4,165.2V167.2M954.5,161.6V165.2M962.2,213.8V214.8M963.3,212.8V213.8M964.4,211.8V212.8M967.7,222.0V224.5M968.8,217.3V222.0M969.9,213.3V217.3M972.1,210.5V214.4M973.2,208.8V210.5M974.3,201.0V208.8M975.4,194.6V201.0M978.7,193.0V197.3M982.0,194.0V198.3M983.1,191.6V194.0M990.8,232.7V236.1M994.1,237.3V239.8M998.5,247.4V253.2M999.6,239.2V247.4M1000.7,237.6V239.2M1004.0,246.6V250.3M1006.2,250.9V252.7M1009.5,253.8V256.5M1010.6,251.5V253.8M1011.7,244.8V251.5M1012.8,242.9V244.8M1016.1,248.6V250.0M1017.2,243.6V248.6M1019.4,242.8V250.5M1020.5,241.6V242.8M1022.7,240.0V248.3M1023.8,231.6V240.0M1027.1,237.9V246.6M1028.2,236.7V237.9M1029.3,229.5V236.7M1030.4,224.7V229.5M1032.6,218.6V225.8M1039.2,232.6V235.3M1040.3,228.9V232.6M1043.6,231.3V233.6M1051.3,247.1V252.5M1057.9,274.7V277.8M1062.3,271.4V282.0M1063.4,270.4V271.4M1066.7,272.4V274.4M1070.0,273.7V275.8M1072.2,273.9V279.4M1075.5,280.1V281.1M1082.1,286.3V295.2M1085.4,288.4V296.1M1099.7,324.1V327.0M1100.8,312.2V324.1M1103.0,312.1V317.9M1104.1,311.0V312.1M1105.2,302.1V311.0M1107.4,302.1V303.1M1108.5,297.1V302.1M1110.7,296.0V298.9M1111.8,295.0V296.0M1112.9,293.7V295.0M1114.0,292.7V293.7M1115.1,282.9V292.7M1117.3,279.9V283.9M1118.4,272.2V279.9M1119.5,271.2V272.2M1125.0,273.9V278.3M1126.1,271.3V273.9M1127.2,266.4V271.3M1136.0,286.5V291.4M1137.1,282.9V286.5M1139.3,282.9V283.9M1143.7,291.9V299.3M1144.8,287.7V291.9M1147.0,286.2V295.0M1148.1,282.5V286.2M1152.5,291.3V292.3M1153.6,281.4V291.3M1154.7,280.4V281.4M1155.8,276.3V280.4M1156.9,274.8V276.3M1158.0,263.6V274.8M1159.1,261.8V263.6M1161.3,278.8V283.3M1163.5,277.6V282.3M1164.6,274.6V277.6M1165.7,202.1V274.6M1166.8,182.0V202.1M1167.9,169.7V182.0M1169.0,158.1V169.7M1170.1,149.7V158.1M1171.2,148.7V149.7M1172.3,143.8V148.7M1174.5,146.2V147.5M1178.9,172.9V180.6M1180.0,168.7V172.9M1181.1,163.5V168.7M1182.2,162.3V163.5M1183.3,160.0V162.3M1186.6,170.6V172.2M1189.9,169.0V173.0M1191.0,168.0V169.0M1192.1,162.9V168.0M1195.4,166.8V169.2M1196.5,163.6V166.8M1197.6,160.1V163.6M1198.7,149.6V160.1M1204.2,161.4V163.7M1206.4,156.9V163.4M1207.5,155.9V156.9M1213.0,156.4V168.2M1215.2,156.0V157.4M1216.3,151.9V156.0M1218.5,149.6V152.9M1219.6,145.3V149.6M1220.7,134.5V145.3M1224.0,155.3V165.4M1228.4,167.3V171.0M1238.3,204.5V207.6M1239.4,200.1V204.5M1241.6,194.2V202.3M1250.4,260.8V261.8M1253.7,258.3V270.1M1255.9,258.0V264.4M1258.1,259.9V261.5M1221.3,118.0V150.0M1172.6,134.0V150.0" stroke="#3f9a8e" stroke-width="1.8" fill="none"/>
<path d="M61.3,653.5V654.8M62.4,654.8V659.2M63.5,659.2V662.2M65.7,658.5V659.5M66.8,659.5V662.8M67.9,662.8V664.0M70.1,656.1V659.6M71.2,659.6V664.5M72.3,664.5V666.1M77.8,613.0V616.9M80.0,609.2V615.4M84.4,605.8V609.0M85.5,609.0V610.0M89.9,601.2V606.9M91.0,606.9V607.9M94.3,597.8V605.1M95.4,605.1V614.0M97.6,610.8V614.6M99.8,611.6V614.0M103.1,611.6V619.6M106.4,609.2V613.5M107.5,613.5V616.5M108.6,616.5V619.9M110.8,611.6V613.2M111.9,613.2V616.2M113.0,616.2V618.7M115.2,615.6V619.5M118.5,617.0V623.9M122.9,612.7V619.3M127.3,615.7V618.0M129.5,610.8V615.2M130.6,615.2V617.6M132.8,614.7V615.7M133.9,615.7V619.6M136.1,615.2V618.6M137.2,618.6V621.8M140.5,616.8V619.3M141.6,619.3V623.1M143.8,618.4V621.2M146.0,614.1V615.1M150.4,601.6V602.9M151.5,602.9V604.6M152.6,604.6V605.6M153.7,605.6V611.5M157.0,600.4V601.4M159.2,594.1V601.1M163.6,590.4V604.2M165.8,597.7V599.0M168.0,598.0V605.8M171.3,601.5V604.1M173.5,597.8V599.3M176.8,593.2V595.0M177.9,595.0V605.4M179.0,605.4V612.3M182.3,603.1V608.5M183.4,608.5V611.6M184.5,611.6V612.6M185.6,612.6V622.3M186.7,622.3V623.3M190.0,618.7V619.8M195.5,606.6V613.1M199.9,602.9V604.2M206.5,584.5V585.9M210.9,575.6V576.6M213.1,572.1V574.2M214.2,574.2V575.2M217.5,563.8V567.9M218.6,567.9V568.9M227.4,505.7V516.0M229.6,506.9V508.3M230.7,508.3V512.7M232.9,506.1V515.6M238.4,498.1V499.1M239.5,499.1V500.1M242.8,486.9V487.9M243.9,487.9V490.7M246.1,487.9V495.4M248.3,491.9V499.0M253.8,488.3V489.6M265.9,454.7V457.9M269.2,443.7V445.7M270.3,445.7V458.2M273.6,453.1V454.7M275.8,451.4V453.6M276.9,453.6V465.5M278.0,465.5V471.0M280.2,463.9V465.8M281.3,465.8V471.7M283.5,462.0V463.0M285.7,462.0V464.0M286.8,464.0V466.0M290.1,461.2V464.4M291.2,464.4V467.6M294.5,453.2V459.9M295.6,459.9V462.6M296.7,462.6V464.9M303.3,452.4V453.7M305.5,446.2V450.0M306.6,450.0V455.2M307.7,455.2V457.1M311.0,447.7V451.2M315.4,433.9V442.0M318.7,427.4V432.9M325.3,412.7V415.2M326.4,415.2V417.3M328.6,411.7V413.5M333.0,405.5V413.8M336.3,407.6V421.5M340.7,415.6V419.5M344.0,410.4V412.2M346.2,408.1V411.8M349.5,409.8V414.1M353.9,405.0V415.5M356.1,405.5V407.0M357.2,407.0V413.5M358.3,413.5V416.8M359.4,416.8V422.4M360.5,422.4V423.4M362.7,422.4V428.4M363.8,428.4V433.7M366.0,427.8V430.1M368.2,424.5V430.8M369.3,430.8V433.0M372.6,430.2V432.8M373.7,432.8V434.6M378.1,425.3V429.7M379.2,429.7V431.0M380.3,431.0V434.6M382.5,427.0V430.8M384.7,427.5V437.8M389.1,429.7V438.9M392.4,428.6V439.1M393.5,439.1V448.3M396.8,445.0V455.5M400.1,445.0V447.4M401.2,447.4V452.7M404.5,449.6V452.9M406.7,449.4V454.8M411.1,441.2V445.3M412.2,445.3V447.0M414.4,439.1V443.6M415.5,443.6V444.6M417.7,443.6V444.6M418.8,444.6V452.0M424.3,434.7V435.7M425.4,435.7V442.6M428.7,433.0V437.8M430.9,431.7V440.3M434.2,436.2V437.2M438.6,428.9V437.2M439.7,437.2V439.0M440.8,439.0V440.0M443.0,433.3V440.5M444.1,440.5V443.3M446.3,440.1V446.0M449.6,437.2V439.2M451.8,433.3V437.0M455.1,427.3V430.4M459.5,423.9V433.5M463.9,419.9V420.9M466.1,413.1V419.1M468.3,415.2V424.6M471.6,415.4V420.9M473.8,416.5V424.4M474.9,424.4V425.4M477.1,421.9V422.9M479.3,412.9V415.0M480.4,415.0V419.2M483.7,415.1V418.6M488.1,410.9V411.9M489.2,411.9V414.2M493.6,401.3V406.5M494.7,406.5V408.8M498.0,404.5V410.0M499.1,410.0V411.0M502.4,396.2V401.3M504.6,392.7V393.7M506.8,391.2V396.2M507.9,396.2V397.2M512.3,387.4V388.8M515.6,380.9V382.7M516.7,382.7V384.1M517.8,384.1V387.2M521.1,376.0V387.9M522.2,387.9V388.9M523.3,388.9V393.2M525.5,389.4V397.9M527.7,395.5V402.3M528.8,402.3V403.3M529.9,403.3V404.4M532.1,399.9V405.1M534.3,401.5V403.6M536.5,398.9V400.3M537.6,400.3V402.3M539.8,398.8V404.3M540.9,404.3V408.9M543.1,401.2V409.6M548.6,399.8V404.1M549.7,404.1V409.9M554.1,397.8V404.6M555.2,404.6V406.4M556.3,406.4V409.2M557.4,409.2V410.2M562.9,392.7V401.4M567.3,391.2V392.2M568.4,392.2V397.2M569.5,397.2V401.0M570.6,401.0V406.9M571.7,406.9V409.0M573.9,408.0V409.0M575.0,409.0V410.8M576.1,410.8V411.8M577.2,411.8V412.8M578.3,412.8V413.8M581.6,404.8V412.2M582.7,412.2V413.2M587.1,397.3V398.4M588.2,398.4V400.4M589.3,400.4V401.4M591.5,391.1V393.4M594.8,388.0V393.9M595.9,393.9V395.4M597.0,395.4V399.3M599.2,398.3V401.7M601.4,400.7V406.5M603.6,394.7V396.2M604.7,396.2V412.2M605.8,412.2V413.2M608.0,407.5V411.4M609.1,411.4V414.9M610.2,414.9V420.2M612.4,419.2V427.5M613.5,427.5V429.0M615.7,427.7V429.0M616.8,429.0V430.9M617.9,430.9V433.5M620.1,431.3V440.1M621.2,440.1V441.8M622.3,441.8V454.8M624.5,447.3V454.3M627.8,448.5V451.2M628.9,451.2V457.4M630.0,457.4V458.7M632.2,457.7V466.8M633.3,466.8V469.6M634.4,469.6V477.4M636.6,476.4V482.5M638.8,480.5V485.4M642.1,475.8V476.8M644.3,472.2V477.3M645.4,477.3V480.3M647.6,476.9V480.0M648.7,480.0V487.5M652.0,479.4V484.3M654.2,478.1V479.5M655.3,479.5V483.9M656.4,483.9V487.6M657.5,487.6V489.8M658.6,489.8V492.5M659.7,492.5V503.7M660.8,503.7V508.4M664.1,498.9V506.8M666.3,495.9V505.8M668.5,500.3V505.1M672.9,490.6V495.9M678.4,484.1V487.9M679.5,487.9V490.9M685.0,477.7V484.7M687.2,478.2V484.1M688.3,484.1V485.8M693.8,473.0V474.0M698.2,468.7V473.0M710.3,438.1V439.4M713.6,436.2V439.0M716.9,432.1V433.1M719.1,431.2V436.0M720.2,436.0V446.2M722.4,445.2V448.7M723.5,448.7V451.9M725.7,449.1V454.7M726.8,454.7V455.9M730.1,448.1V450.5M731.2,450.5V454.8M732.3,454.8V462.3M737.8,449.7V459.5M740.0,456.1V462.8M745.5,449.8V452.2M746.6,452.2V454.1M748.8,447.4V451.7M755.4,435.8V436.8M757.6,435.8V442.4M759.8,439.7V442.9M762.0,439.4V440.4M764.2,433.0V437.0M766.4,432.2V442.8M771.9,426.7V434.5M773.0,434.5V435.5M777.4,415.0V420.2M778.5,420.2V423.2M788.4,386.4V391.2M791.7,384.8V385.8M792.8,385.8V391.3M799.4,375.4V376.4M804.9,358.3V359.5M808.2,353.1V360.5M817.0,336.6V343.1M826.9,317.0V318.0M831.3,306.0V308.0M837.9,288.4V294.3M839.0,294.3V300.3M842.3,289.9V292.9M844.5,291.0V292.9M845.6,292.9V294.4M846.7,294.4V298.2M850.0,296.2V300.2M851.1,300.2V301.7M853.3,299.0V304.7M854.4,304.7V307.0M856.6,298.6V310.1M862.1,297.9V298.9M864.3,295.7V297.7M868.7,283.5V295.5M873.1,287.6V295.0M876.4,285.8V286.8M877.5,286.8V291.7M878.6,291.7V293.4M883.0,284.4V285.5M887.4,281.0V285.8M889.6,275.4V283.2M891.8,278.0V281.4M892.9,281.4V283.6M894.0,283.6V286.3M896.2,280.8V282.0M897.3,282.0V283.0M898.4,283.0V284.1M900.6,282.6V285.9M903.9,269.1V271.5M908.3,256.6V258.8M911.6,239.1V242.4M921.5,189.0V196.4M924.8,189.4V196.4M925.9,196.4V200.5M930.3,181.3V184.5M931.4,184.5V192.6M936.9,178.0V179.0M939.1,176.5V177.5M941.3,176.5V186.3M947.9,164.5V169.9M950.1,162.5V168.8M951.2,168.8V172.2M955.6,161.6V165.9M956.7,165.9V168.4M957.8,168.4V169.4M958.9,169.4V179.0M960.0,179.0V198.9M961.1,198.9V214.8M965.5,211.8V221.3M966.6,221.3V224.5M971.0,213.3V214.4M976.5,194.6V196.0M977.6,196.0V197.3M979.8,193.0V196.8M980.9,196.8V198.3M984.2,191.6V197.2M985.3,197.2V198.2M986.4,198.2V207.8M987.5,207.8V221.4M988.6,221.4V229.2M989.7,229.2V236.1M991.9,232.7V237.7M993.0,237.7V239.8M995.2,237.3V240.3M996.3,240.3V248.0M997.4,248.0V253.2M1001.8,237.6V248.2M1002.9,248.2V250.3M1005.1,246.6V252.7M1007.3,250.9V251.9M1008.4,251.9V256.5M1013.9,242.9V246.8M1015.0,246.8V250.0M1018.3,243.6V250.5M1021.6,241.6V248.3M1024.9,231.6V239.4M1026.0,239.4V246.6M1031.5,224.7V225.8M1033.7,218.6V225.4M1034.8,225.4V226.4M1035.9,226.4V227.4M1037.0,227.4V229.8M1038.1,229.8V235.3M1041.4,228.9V232.6M1042.5,232.6V233.6M1044.7,231.3V235.5M1045.8,235.5V241.0M1046.9,241.0V242.0M1048.0,242.0V244.9M1049.1,244.9V249.0M1050.2,249.0V252.5M1052.4,247.1V251.9M1053.5,251.9V261.0M1054.6,261.0V265.8M1055.7,265.8V273.2M1056.8,273.2V277.8M1059.0,274.7V275.7M1060.1,275.7V281.0M1061.2,281.0V282.0M1064.5,270.4V273.0M1065.6,273.0V274.4M1067.8,272.4V273.4M1068.9,273.4V275.8M1071.1,273.7V279.4M1073.3,273.9V279.5M1074.4,279.5V281.1M1076.6,280.1V284.4M1077.7,284.4V288.7M1078.8,288.7V289.7M1079.9,289.7V294.2M1081.0,294.2V295.2M1083.2,286.3V288.9M1084.3,288.9V296.1M1086.5,288.4V293.3M1087.6,293.3V299.7M1088.7,299.7V301.1M1089.8,301.1V302.1M1090.9,302.1V304.2M1092.0,304.2V311.8M1093.1,311.8V317.7M1094.2,317.7V318.7M1095.3,318.7V319.7M1096.4,319.7V325.0M1097.5,325.0V326.0M1098.6,326.0V327.0M1101.9,312.2V317.9M1106.3,302.1V303.1M1109.6,297.1V298.9M1116.2,282.9V283.9M1120.6,271.2V272.2M1121.7,272.2V273.7M1122.8,273.7V277.3M1123.9,277.3V278.3M1128.3,266.4V272.7M1129.4,272.7V275.6M1130.5,275.6V276.6M1131.6,276.6V278.2M1132.7,278.2V279.2M1133.8,279.2V285.4M1134.9,285.4V291.4M1138.2,282.9V283.9M1140.4,282.9V293.7M1141.5,293.7V298.3M1142.6,298.3V299.3M1145.9,287.7V295.0M1149.2,282.5V288.8M1150.3,288.8V289.8M1151.4,289.8V292.3M1160.2,261.8V283.3M1162.4,278.8V282.3M1173.4,143.8V147.5M1175.6,146.2V156.1M1176.7,156.1V165.7M1177.8,165.7V180.6M1184.4,160.0V167.5M1185.5,167.5V172.2M1187.7,170.6V171.6M1188.8,171.6V173.0M1193.2,162.9V164.0M1194.3,164.0V169.2M1199.8,149.6V156.8M1200.9,156.8V157.8M1202.0,157.8V161.4M1203.1,161.4V163.7M1205.3,161.4V163.4M1208.6,155.9V157.3M1209.7,157.3V161.2M1210.8,161.2V163.6M1211.9,163.6V168.2M1214.1,156.4V157.4M1217.4,151.9V152.9M1221.8,134.5V150.5M1222.9,150.5V165.4M1225.1,155.3V156.5M1226.2,156.5V161.5M1227.3,161.5V171.0M1229.5,167.3V175.0M1230.6,175.0V180.3M1231.7,180.3V187.0M1232.8,187.0V188.4M1233.9,188.4V195.2M1235.0,195.2V197.9M1236.1,197.9V204.6M1237.2,204.6V207.6M1240.5,200.1V202.3M1242.7,194.2V196.4M1243.8,196.4V199.6M1244.9,199.6V205.2M1246.0,205.2V213.8M1247.1,213.8V223.1M1248.2,223.1V258.9M1249.3,258.9V261.8M1251.5,260.8V266.4M1252.6,266.4V270.1M1254.8,258.3V264.4M1257.0,258.0V261.5" stroke="#d2645d" stroke-width="1.8" fill="none"/>
<path d="M57.3,701.7 C60.0,698.7 69.0,690.2 73.8,683.8 C78.6,677.4 82.7,669.4 86.3,663.4 C89.9,657.4 92.5,652.2 95.6,647.8 C98.7,643.4 101.3,640.5 105.0,636.9 C108.7,633.2 113.3,628.8 117.5,625.9 C121.7,623.0 126.9,621.2 130.0,619.7 C133.1,618.2 134.2,617.1 136.3,616.6 C138.4,616.1 139.4,616.6 142.5,616.6 C145.6,616.6 152.2,616.6 155.0,616.6 C157.8,616.6 157.1,617.1 159.4,616.6 C161.7,616.1 165.2,614.5 168.8,613.4 C172.5,612.3 177.4,611.2 181.3,610.3 C185.2,609.4 189.1,608.6 192.2,608.0 C195.3,607.4 196.6,608.1 200.0,606.4 C203.4,604.7 208.6,600.8 212.5,597.8 C216.4,594.8 220.0,592.0 223.4,588.4 C226.8,584.8 230.0,579.8 232.8,575.9 C235.6,572.0 237.3,569.5 240.0,565.0 C242.7,560.5 245.9,554.2 248.9,548.9 C251.9,543.5 254.9,538.5 257.9,532.9 C260.9,527.2 263.8,521.0 266.8,515.0 C269.8,509.0 272.7,502.2 275.7,497.1 C278.7,492.0 281.6,488.2 284.6,484.6 C287.6,481.0 291.0,478.2 293.6,475.7 C296.2,473.2 296.1,472.4 300.0,469.5 C303.9,466.6 311.6,461.4 317.0,458.0 C322.4,454.6 328.1,451.6 332.6,449.0 C337.1,446.4 339.0,446.4 343.8,442.3 C348.6,438.2 356.2,428.6 361.6,424.5 C367.1,420.4 371.3,418.4 376.5,417.8 C381.7,417.2 388.7,420.1 392.6,421.2 C396.5,422.3 397.6,423.2 400.0,424.5 C402.4,425.8 404.3,427.1 406.7,429.0 C409.1,430.9 411.9,433.9 414.5,435.7 C417.1,437.5 419.1,439.0 422.3,439.6 C425.5,440.2 429.8,439.2 433.5,439.6 C437.2,440.0 441.2,441.3 444.6,441.8 C448.0,442.3 450.6,442.7 453.6,442.4 C456.6,442.1 459.5,441.4 462.5,440.1 C465.5,438.8 468.4,436.3 471.4,434.6 C474.4,432.9 477.4,431.2 480.4,430.1 C483.4,429.0 486.0,429.4 489.3,427.9 C492.6,426.4 496.4,423.3 500.0,421.3 C503.6,419.3 507.5,418.0 511.2,415.8 C514.9,413.6 519.5,410.1 522.3,408.0 C525.1,405.9 526.0,404.0 527.9,402.9 C529.8,401.8 530.7,401.9 533.5,401.3 C536.3,400.8 541.2,400.4 544.6,399.6 C548.0,398.9 550.8,397.2 553.6,396.8 C556.4,396.4 558.2,396.9 561.4,397.3 C564.5,397.7 569.3,398.4 572.5,399.2 C575.7,400.0 578.0,401.7 580.4,402.4 C582.8,403.1 583.8,403.3 587.1,403.5 C590.4,403.7 596.0,403.3 600.0,403.5 C604.0,403.7 607.5,403.9 611.2,404.6 C614.9,405.3 618.6,405.9 622.3,407.9 C626.0,409.9 629.8,413.1 633.5,416.8 C637.2,420.5 640.9,425.4 644.6,430.2 C648.3,435.0 652.1,440.4 655.8,445.8 C659.5,451.2 663.3,457.2 667.0,462.6 C670.7,468.0 675.1,474.9 678.1,478.2 C681.1,481.5 682.1,481.4 684.7,482.7 C687.3,484.0 690.4,485.6 693.7,486.0 C697.1,486.4 701.9,485.9 704.8,484.9 C707.7,483.9 708.3,482.8 711.2,480.0 C714.1,477.2 718.6,471.8 722.3,468.2 C726.0,464.6 729.8,460.5 733.5,458.1 C737.2,455.7 740.9,455.2 744.6,453.7 C748.3,452.2 752.1,450.5 755.8,449.2 C759.5,447.9 763.6,446.3 767.0,445.8 C770.4,445.3 773.1,446.7 775.9,446.0 C778.7,445.3 781.1,443.5 783.7,441.4 C786.3,439.3 788.8,437.0 791.5,433.6 C794.2,430.2 796.8,425.9 800.0,421.1 C803.2,416.3 807.1,410.7 810.7,405.0 C814.3,399.3 818.1,393.1 821.4,387.1 C824.7,381.2 828.0,374.4 830.4,369.3 C832.8,364.2 833.3,361.9 835.7,356.8 C838.1,351.7 841.6,344.3 844.6,338.9 C847.6,333.5 850.3,329.1 853.6,324.6 C856.9,320.1 860.7,316.3 864.3,312.1 C867.9,307.9 871.7,302.9 875.0,299.6 C878.3,296.3 880.6,294.1 883.9,292.5 C887.2,290.9 891.9,290.2 894.6,289.8 C897.3,289.4 897.8,290.1 900.0,289.8 C902.2,289.6 905.2,289.7 907.8,288.3 C910.4,286.9 913.0,284.3 915.6,281.3 C918.2,278.3 920.8,274.2 923.4,270.3 C926.0,266.4 928.7,262.2 931.3,257.8 C933.9,253.4 936.5,249.0 939.1,243.8 C941.7,238.6 944.3,232.3 946.9,226.6 C949.5,220.9 952.6,213.8 954.7,209.4 C956.8,205.0 958.1,202.4 959.4,200.0 C960.7,197.6 960.1,196.6 962.5,194.8 C964.9,193.0 970.0,190.4 973.7,189.2 C977.4,188.0 981.4,186.1 984.8,187.4 C988.1,188.7 991.3,194.5 993.8,197.0 C996.3,199.5 997.4,199.2 1000.0,202.5 C1002.6,205.8 1006.3,212.4 1009.4,216.6 C1012.5,220.8 1015.1,224.6 1018.8,227.5 C1022.4,230.4 1027.1,232.0 1031.3,233.8 C1035.5,235.6 1040.2,237.1 1043.8,238.4 C1047.4,239.7 1050.0,240.0 1053.1,241.6 C1056.2,243.2 1059.1,246.2 1062.5,247.8 C1065.9,249.4 1069.8,249.1 1073.4,250.9 C1077.1,252.7 1081.0,255.7 1084.4,258.8 C1087.8,261.9 1091.2,266.3 1093.8,269.7 C1096.4,273.1 1097.8,276.1 1100.0,279.0 C1102.2,281.9 1103.9,284.9 1106.7,287.2 C1109.5,289.5 1112.3,291.8 1116.8,293.0 C1121.3,294.2 1129.3,294.6 1133.5,294.7 C1137.7,294.8 1139.1,294.5 1141.9,293.9 C1144.7,293.3 1147.8,292.1 1150.3,291.3 C1152.8,290.5 1154.8,290.1 1157.0,288.8 C1159.2,287.6 1161.5,286.9 1163.7,283.8 C1165.9,280.7 1167.3,276.8 1170.4,270.4 C1173.5,264.0 1178.7,253.6 1182.5,245.6 C1186.3,237.6 1189.8,230.0 1193.4,222.2 C1197.1,214.4 1201.0,206.4 1204.4,198.8 C1207.8,191.2 1210.9,183.2 1213.8,176.9 C1216.7,170.7 1219.5,164.7 1221.6,161.3 C1223.7,157.9 1224.5,156.9 1226.3,156.6 C1228.1,156.3 1230.2,158.4 1232.5,159.7 C1234.8,161.0 1237.7,162.4 1240.3,164.4 C1242.9,166.4 1245.8,168.5 1248.1,171.4 C1250.4,174.3 1252.5,178.5 1254.4,181.6 C1256.4,184.7 1258.9,188.8 1259.8,190.2" stroke="#dc4444" stroke-width="2" fill="none"/>
<path d="M57.3,674.4 C58.2,672.8 60.8,667.1 62.8,665.0 C64.8,662.9 67.0,663.2 69.1,661.9 C71.2,660.6 73.5,660.3 75.3,657.2 C77.1,654.1 78.4,647.8 80.0,643.1 C81.6,638.4 83.1,634.1 84.7,629.1 C86.3,624.1 87.6,617.0 89.4,613.4 C91.2,609.8 93.5,607.7 95.6,607.2 C97.7,606.7 99.6,609.0 101.9,610.3 C104.2,611.6 107.1,613.8 109.7,615.0 C112.3,616.2 114.9,616.4 117.5,617.3 C120.1,618.2 122.7,619.8 125.3,620.5 C127.9,621.2 130.8,621.4 133.1,621.3 C135.4,621.2 136.8,620.8 139.4,619.7 C142.0,618.7 146.2,616.3 148.8,615.0 C151.4,613.7 153.8,612.2 155.0,611.9 C156.2,611.6 155.1,614.4 156.3,613.4 C157.6,612.4 160.2,608.2 162.5,605.6 C164.8,603.0 168.0,598.8 170.3,597.8 C172.7,596.8 174.5,598.1 176.6,599.4 C178.7,600.7 180.7,603.3 182.8,605.6 C184.9,607.9 187.0,611.8 189.1,613.4 C191.2,615.0 193.5,615.8 195.3,615.0 C197.1,614.2 198.2,611.9 200.0,608.8 C201.8,605.7 204.2,600.5 206.3,596.3 C208.4,592.1 210.4,588.0 212.5,583.8 C214.6,579.6 216.7,576.0 218.8,571.3 C220.9,566.6 222.9,560.8 225.0,555.6 C227.1,550.4 229.3,546.4 231.3,540.0 C233.3,533.6 235.4,521.8 236.8,517.0 C238.2,512.2 238.3,513.5 240.0,511.4 C241.7,509.3 244.7,506.4 247.1,504.3 C249.5,502.2 252.5,500.7 254.3,498.9 C256.1,497.1 256.4,497.5 257.9,493.6 C259.4,489.7 261.1,481.9 263.2,475.7 C265.3,469.4 268.3,460.3 270.4,456.1 C272.5,451.9 273.6,450.4 275.7,450.7 C277.8,451.0 281.1,455.7 282.9,457.9 C284.7,460.1 284.6,463.1 286.4,464.1 C288.2,465.1 291.3,464.1 293.6,464.1 C295.9,464.1 296.9,465.5 300.0,464.1 C303.1,462.7 308.9,459.7 312.5,455.7 C316.1,451.7 318.4,445.7 321.4,440.1 C324.4,434.5 325.6,427.9 330.4,422.2 C335.2,416.5 345.4,408.3 350.4,406.1 C355.4,403.9 357.5,405.8 360.5,409.1 C363.5,412.5 365.1,422.2 368.5,426.2 C371.9,430.2 376.9,433.4 380.6,433.2 C384.3,433.0 387.2,424.4 390.6,425.2 C394.0,426.0 398.6,434.5 401.1,437.9 C403.6,441.3 404.1,443.3 405.6,445.7 C407.1,448.1 408.1,451.0 410.0,452.4 C411.9,453.8 414.6,454.7 416.7,454.1 C418.8,453.6 420.4,450.9 422.3,449.1 C424.2,447.3 426.0,445.9 427.9,443.5 C429.8,441.1 431.6,436.7 433.5,434.6 C435.4,432.6 437.2,431.2 439.1,431.2 C441.0,431.2 442.8,433.3 444.6,434.6 C446.5,435.9 448.3,438.3 450.2,439.0 C452.1,439.7 454.3,439.7 455.8,439.0 C457.3,438.3 457.7,435.5 459.2,434.6 C460.7,433.7 463.0,434.5 464.7,433.4 C466.4,432.3 467.3,430.1 469.2,427.9 C471.1,425.7 473.5,421.5 475.9,420.0 C478.3,418.5 481.1,419.4 483.7,418.9 C486.3,418.3 488.8,418.3 491.5,416.7 C494.2,415.1 497.1,411.5 500.0,409.1 C502.9,406.7 506.1,405.2 508.9,402.4 C511.7,399.6 514.5,395.3 516.7,392.3 C518.9,389.3 520.6,386.0 522.3,384.5 C524.0,383.0 525.3,382.6 526.8,383.4 C528.3,384.1 529.8,386.6 531.3,389.0 C532.8,391.4 534.2,394.9 535.7,397.9 C537.2,400.9 539.1,405.1 540.2,406.8 C541.3,408.5 541.3,408.6 542.4,407.9 C543.5,407.2 545.2,403.7 546.9,402.4 C548.6,401.1 550.5,400.3 552.5,400.1 C554.5,399.9 557.4,400.2 559.2,401.3 C561.1,402.4 562.3,405.9 563.6,406.8 C564.9,407.7 565.5,407.7 567.0,406.8 C568.5,405.9 570.6,401.9 572.5,401.3 C574.4,400.8 576.1,402.4 578.1,403.5 C580.1,404.6 583.1,407.1 584.8,407.9 C586.5,408.7 586.9,409.6 588.2,408.5 C589.5,407.4 591.1,403.1 592.6,401.3 C594.1,399.5 595.9,399.0 597.1,397.9 C598.3,396.8 599.1,395.5 600.0,394.6 C600.9,393.7 600.7,391.6 602.2,392.3 C603.7,393.0 606.5,395.1 608.9,399.0 C611.3,402.9 614.5,410.9 616.7,415.7 C618.9,420.5 620.4,424.1 622.3,428.0 C624.2,431.9 626.0,435.7 627.9,439.2 C629.8,442.7 631.6,445.7 633.5,449.2 C635.4,452.7 637.2,456.5 639.1,460.4 C641.0,464.3 642.2,469.3 644.6,472.6 C647.0,475.9 650.2,476.5 653.5,480.4 C656.8,484.3 661.6,492.6 664.6,496.1 C667.6,499.7 669.1,501.9 671.3,501.7 C673.5,501.5 675.4,497.8 678.0,495.0 C680.6,492.2 683.6,488.4 687.0,484.9 C690.4,481.4 695.9,475.9 698.1,473.8 C700.3,471.8 698.6,474.1 700.0,472.6 C701.4,471.1 704.5,468.7 706.7,464.8 C708.9,460.9 711.2,454.2 713.4,449.2 C715.6,444.2 718.0,436.9 720.1,434.7 C722.2,432.5 723.7,433.9 725.7,435.8 C727.8,437.7 730.0,442.8 732.4,445.8 C734.8,448.8 737.8,451.6 740.2,453.7 C742.6,455.8 744.7,458.1 746.9,458.1 C749.1,458.1 751.2,455.4 753.6,453.7 C756.0,452.0 758.8,450.2 761.4,448.1 C764.0,446.1 766.8,443.6 769.2,441.4 C771.6,439.2 773.9,437.5 775.9,434.7 C777.9,431.9 779.6,428.5 781.5,424.6 C783.4,420.7 785.2,416.3 787.1,411.3 C789.0,406.3 790.5,398.8 792.6,394.5 C794.8,390.2 797.6,388.9 800.0,385.6 C802.4,382.3 804.7,378.5 807.1,374.6 C809.5,370.7 811.6,367.5 814.3,362.1 C817.0,356.8 820.5,348.4 823.2,342.5 C825.9,336.6 828.3,331.8 830.4,326.4 C832.5,321.0 833.6,314.9 835.7,310.4 C837.8,305.9 840.8,302.9 842.9,299.6 C845.0,296.3 846.4,291.9 848.2,290.7 C850.0,289.5 851.5,290.9 853.6,292.5 C855.7,294.1 858.3,299.3 860.7,300.5 C863.1,301.7 865.5,301.2 867.9,299.6 C870.3,298.0 872.9,293.1 875.0,290.7 C877.1,288.3 878.0,286.0 880.4,285.4 C882.8,284.8 886.6,286.8 889.3,287.1 C892.0,287.4 894.5,287.1 896.4,287.1 C898.3,287.1 898.9,287.2 900.5,286.9 C902.1,286.5 904.8,285.4 906.0,285.0 C907.2,284.6 906.7,286.8 907.8,284.4 C908.9,281.9 911.2,274.5 912.5,270.3 C913.8,266.1 914.6,264.3 915.6,259.4 C916.6,254.4 917.8,246.1 918.8,240.6 C919.8,235.1 920.9,231.3 921.9,226.6 C922.9,221.9 923.7,216.9 925.0,212.5 C926.3,208.1 928.3,203.1 929.7,200.0 C931.1,196.9 931.0,197.4 933.5,193.7 C936.0,190.0 941.2,182.1 944.6,178.0 C948.0,173.9 951.0,169.8 953.6,169.1 C956.2,168.4 958.1,169.9 960.3,173.6 C962.5,177.3 964.8,185.4 967.0,191.4 C969.2,197.4 971.9,206.3 973.7,209.3 C975.6,212.3 976.2,211.2 978.1,209.3 C980.0,207.4 982.9,198.5 984.8,198.1 C986.7,197.7 987.4,202.3 989.3,207.1 C991.2,211.9 994.2,221.9 996.0,227.1 C997.8,232.3 998.0,235.7 1000.0,238.4 C1002.0,241.1 1005.2,241.3 1007.8,243.1 C1010.4,244.9 1013.0,248.5 1015.6,249.4 C1018.2,250.3 1021.6,249.7 1023.4,248.6 C1025.2,247.5 1025.3,245.3 1026.6,243.1 C1027.9,240.9 1029.8,237.6 1031.3,235.3 C1032.8,233.0 1034.4,231.2 1035.9,229.1 C1037.5,227.0 1039.0,223.9 1040.6,222.8 C1042.2,221.8 1043.7,221.5 1045.3,222.8 C1046.9,224.1 1048.4,227.2 1050.0,230.6 C1051.6,234.0 1053.1,238.1 1054.7,243.1 C1056.3,248.1 1057.8,255.1 1059.4,260.3 C1061.0,265.5 1062.5,272.0 1064.1,274.4 C1065.7,276.8 1067.0,275.2 1068.8,274.4 C1070.6,273.6 1072.9,269.2 1075.0,269.7 C1077.1,270.2 1079.0,274.6 1081.3,277.5 C1083.6,280.4 1086.8,283.5 1089.1,286.9 C1091.4,290.3 1093.5,293.9 1095.3,297.8 C1097.1,301.7 1098.4,306.5 1100.0,310.0 C1101.6,313.5 1103.0,318.9 1105.0,319.0 C1107.0,319.1 1109.7,314.0 1111.7,310.6 C1113.7,307.2 1114.8,303.4 1116.8,298.9 C1118.8,294.4 1121.5,288.3 1123.5,283.8 C1125.5,279.3 1126.5,273.9 1128.5,272.1 C1130.5,270.3 1133.0,270.9 1135.2,272.9 C1137.4,274.8 1139.7,280.9 1141.9,283.8 C1144.1,286.7 1146.6,289.4 1148.6,290.5 C1150.5,291.6 1151.9,291.1 1153.6,290.5 C1155.3,289.9 1156.9,288.6 1158.6,287.2 C1160.3,285.8 1162.3,286.6 1163.7,282.1 C1165.1,277.6 1165.9,268.8 1167.0,260.4 C1168.1,252.0 1169.4,240.6 1170.4,231.9 C1171.4,223.2 1172.1,217.5 1173.1,208.1 C1174.1,198.7 1175.2,183.1 1176.3,175.3 C1177.3,167.5 1178.5,164.4 1179.4,161.3 C1180.3,158.2 1180.7,157.1 1181.7,156.6 C1182.7,156.1 1184.4,156.5 1185.6,158.1 C1186.8,159.7 1188.0,163.6 1188.8,165.9 C1189.6,168.2 1189.3,171.4 1190.3,172.2 C1191.3,173.0 1193.2,171.4 1195.0,170.6 C1196.8,169.8 1199.0,169.1 1201.3,167.5 C1203.6,165.9 1206.5,162.9 1209.1,161.3 C1211.7,159.7 1214.6,159.4 1216.9,158.1 C1219.2,156.8 1221.0,154.2 1223.1,153.4 C1225.2,152.6 1227.8,152.6 1229.4,153.4 C1231.0,154.2 1231.5,155.2 1232.5,158.1 C1233.5,161.0 1234.3,165.6 1235.6,170.6 C1236.9,175.6 1238.7,182.9 1240.3,187.8 C1241.9,192.8 1243.4,196.1 1245.0,200.3 C1246.6,204.5 1248.1,207.9 1249.7,212.8 C1251.3,217.8 1253.1,225.6 1254.4,230.0 C1255.7,234.4 1257.0,237.8 1257.5,239.4" stroke="#3b5ca8" stroke-width="1.3" fill="none"/>
<path d="M57.3,714.2 C60.0,712.6 69.0,708.0 73.8,704.8 C78.6,701.5 82.1,698.2 86.3,694.7 C90.5,691.2 94.6,687.0 98.8,683.8 C103.0,680.5 107.1,678.3 111.3,675.2 C115.5,672.1 119.6,668.5 123.8,665.0 C128.0,661.5 132.1,657.8 136.3,654.1 C140.5,650.5 145.7,645.8 148.8,643.1 C151.9,640.4 152.7,639.5 155.0,637.7 C157.3,635.9 159.2,634.4 162.5,632.2 C165.8,630.0 170.8,626.8 175.0,624.4 C179.2,622.0 183.3,620.0 187.5,618.1 C191.7,616.2 195.8,614.2 200.0,612.7 C204.2,611.2 208.3,610.4 212.5,608.8 C216.7,607.2 220.4,606.7 225.0,603.3 C229.6,599.9 235.7,592.2 240.0,588.2 C244.3,584.2 247.1,582.6 250.7,579.3 C254.3,576.0 257.8,572.8 261.4,568.6 C265.0,564.4 268.5,558.5 272.1,554.3 C275.7,550.1 279.3,547.8 282.9,543.6 C286.5,539.4 290.6,532.8 293.6,529.3 C296.7,525.8 298.1,526.0 301.2,522.8 C304.3,519.6 308.6,515.0 312.3,510.0 C316.0,505.0 319.8,498.2 323.5,493.0 C327.2,487.8 331.2,482.8 334.6,478.5 C338.0,474.2 341.0,470.4 343.6,467.2 C346.2,464.0 347.7,462.0 350.3,459.5 C352.9,457.0 356.2,454.5 359.2,452.3 C362.2,450.1 363.2,448.9 368.1,446.3 C373.0,443.7 383.1,438.6 388.4,436.7 C393.7,434.8 396.2,435.6 400.0,435.1 C403.8,434.7 407.5,434.5 411.2,434.0 C414.9,433.5 418.6,432.9 422.3,432.3 C426.0,431.7 429.8,430.6 433.5,430.1 C437.2,429.6 440.9,429.1 444.6,429.2 C448.3,429.3 452.1,430.1 455.8,430.6 C459.5,431.1 463.3,431.8 467.0,432.3 C470.7,432.8 474.4,433.2 478.1,433.4 C481.8,433.6 485.7,433.8 489.3,433.4 C492.9,433.0 496.4,431.5 500.0,430.8 C503.6,430.1 507.5,430.1 511.2,429.2 C514.9,428.3 518.6,426.8 522.3,425.2 C526.0,423.6 529.8,421.4 533.5,419.7 C537.2,418.0 540.9,416.5 544.6,415.2 C548.3,413.9 552.1,412.8 555.8,411.9 C559.5,411.0 563.3,410.4 567.0,409.6 C570.7,408.9 574.4,408.1 578.1,407.4 C581.8,406.7 585.6,405.9 589.3,405.2 C592.9,404.4 596.4,403.4 600.0,402.9 C603.6,402.4 607.5,402.1 611.2,402.3 C614.9,402.5 618.6,402.9 622.3,404.0 C626.0,405.1 629.8,407.1 633.5,409.0 C637.2,410.9 640.9,413.2 644.6,415.7 C648.3,418.2 652.1,421.3 655.8,424.1 C659.5,426.9 663.3,429.8 667.0,432.5 C670.7,435.2 674.4,437.9 678.1,440.3 C681.8,442.7 685.6,445.0 689.3,447.0 C692.9,449.0 696.4,451.0 700.0,452.5 C703.6,454.0 707.5,454.8 711.2,455.9 C714.9,457.0 718.6,457.9 722.3,459.2 C726.0,460.5 729.8,462.5 733.5,463.7 C737.2,464.9 740.9,465.9 744.6,466.5 C748.3,467.1 752.1,467.4 755.8,467.3 C759.5,467.2 763.3,466.7 767.0,465.9 C770.7,465.1 774.4,464.3 778.1,462.6 C781.8,460.9 785.6,459.0 789.3,455.9 C792.9,452.8 797.6,447.0 800.0,444.2 C802.4,441.4 800.6,442.2 803.6,438.9 C806.6,435.6 812.5,430.2 817.9,424.6 C823.2,419.0 829.8,411.5 835.7,405.0 C841.7,398.5 848.8,390.8 853.6,385.4 C858.4,380.0 860.7,377.4 864.3,372.9 C867.9,368.4 870.8,364.3 875.0,358.6 C879.2,352.9 885.1,344.2 889.3,338.9 C893.5,333.6 895.6,331.5 900.0,326.6 C904.4,321.7 910.4,315.9 915.6,309.4 C920.8,302.9 926.6,294.0 931.3,287.5 C936.0,281.0 939.9,275.5 943.8,270.3 C947.7,265.1 951.6,259.9 954.7,256.3 C957.8,252.7 959.9,250.4 962.5,248.4 C965.1,246.4 967.7,246.1 970.3,244.5 C972.9,242.9 975.2,241.4 978.1,239.1 C981.0,236.8 983.9,232.8 987.5,230.5 C991.1,228.2 995.3,226.9 1000.0,225.2 C1004.7,223.5 1010.4,222.1 1015.6,220.5 C1020.8,218.9 1027.1,217.1 1031.3,215.8 C1035.5,214.5 1037.5,213.1 1040.6,212.7 C1043.7,212.3 1046.9,212.5 1050.0,213.4 C1053.1,214.3 1056.3,216.0 1059.4,218.1 C1062.5,220.2 1065.7,223.2 1068.8,225.9 C1071.9,228.6 1075.0,231.6 1078.1,234.5 C1081.2,237.4 1083.8,239.9 1087.5,243.1 C1091.2,246.3 1096.5,251.0 1100.0,253.9 C1103.5,256.8 1105.9,258.3 1108.4,260.4 C1110.9,262.4 1112.3,264.7 1115.1,266.2 C1117.9,267.7 1121.5,268.5 1125.1,269.6 C1128.7,270.7 1132.7,271.8 1136.9,272.9 C1141.1,274.0 1146.7,275.3 1150.3,276.3 C1153.9,277.3 1156.1,277.8 1158.6,278.8 C1161.1,279.8 1162.5,282.4 1165.3,282.1 C1168.1,281.8 1172.5,279.3 1175.4,277.1 C1178.3,274.9 1179.5,271.7 1182.5,269.1 C1185.5,266.5 1189.8,264.2 1193.4,261.3 C1197.1,258.4 1201.0,255.0 1204.4,251.9 C1207.8,248.8 1210.9,245.6 1213.8,242.5 C1216.7,239.4 1219.0,236.2 1221.6,233.1 C1224.2,230.0 1226.8,226.8 1229.4,223.8 C1232.0,220.8 1234.6,217.4 1237.2,215.2 C1239.8,213.0 1242.4,211.6 1245.0,210.5 C1247.6,209.4 1250.3,209.4 1252.8,208.9 C1255.3,208.4 1258.6,207.6 1259.8,207.3" stroke="#000" stroke-width="3.6" fill="none" stroke-linecap="round"/>
<g stroke="#ea3141" stroke-width="4.7" fill="none" stroke-linecap="round" stroke-linejoin="round">
 <path d="M951,123.4V149 M938,136.2L951,149L964,136.2"/>
 <path d="M1175,100.2V126.3 M1162.2,113.6L1175,126.3L1187.8,113.6"/>
 <path d="M1220.3,82.4V109.2 M1207,96L1220.3,109.2L1233.6,96"/>
 <path d="M657.7,552.9V527.4 M644.5,540.5L657.7,527.4L671,540.5"/>
</g>
<circle cx="1299.3" cy="374.7" r="15.4" fill="#f03542" stroke="#e02a38" stroke-width="0.8"/>
<g transform="translate(69,751.5) scale(0.873)" fill="#131722"><path d="M14 22H7V11H0V4h14v18zM28 22h-8l7.5-18h8L28 22z"/><circle cx="20" cy="8" r="4"/></g>
</svg>

<!-- axes borders -->
<div class="a" style="left:1377px;top:39px;width:1px;height:775px;background:#e8e8e8"></div>
<div class="a" style="left:57px;top:785px;width:1393px;height:1px;background:#ececec"></div>
<div class="a" style="left:57px;top:814px;width:1393px;height:1px;background:#ececec"></div>

<!-- TOP BAR -->
<svg class="ic" style="left:0;top:0" width="56" height="34" viewBox="0 0 56 34"><circle cx="26.3" cy="15.2" r="14" fill="#8d9c52"/><path d="M30.5,10.5A6.2,6.2 0 1 0 32.5,15.4H27" stroke="#f4f5dc" stroke-width="1.8" fill="none"/><rect x="29.5" y="-4" width="21.5" height="18.5" rx="9" fill="#e8323c" stroke="#fff" stroke-width="1.5"/></svg>
<div class="t" style="left:35.3px;top:1.8px;font-size:10px;color:#fff;letter-spacing:0.5px">11</div>

<svg class="ic" style="left:64px;top:7px" width="18" height="18" viewBox="0 0 18 18"><circle cx="7" cy="7" r="5.5" stroke="#131722" stroke-width="1.6" fill="none"/><path d="M11,11L15.5,15.5" stroke="#131722" stroke-width="1.8"/></svg>
<div class="t" style="left:86px;top:9px;font-size:14px;font-weight:700">ETHUSD</div>
<svg class="ic" style="left:164px;top:6px" width="20" height="20" viewBox="0 0 20 20"><circle cx="10" cy="10" r="9" stroke="#131722" stroke-width="1.3" fill="none"/><path d="M10,5V15M5,10H15" stroke="#131722" stroke-width="1.3"/></svg>
<div class="a" style="left:199px;top:7px;width:1px;height:20px;background:#eee"></div>
<div class="t" style="left:214px;top:9px;font-size:15px">1h</div>
<div class="a" style="left:245px;top:7px;width:1px;height:20px;background:#eee"></div>
<svg class="ic" style="left:262px;top:5px" width="18" height="22" viewBox="0 0 18 22"><path d="M4.5,0V22M13.5,4V18" stroke="#131722" stroke-width="1.3"/><rect x="2" y="4" width="5" height="13" rx="1" fill="#fff" stroke="#131722" stroke-width="1.3"/><rect x="11" y="7" width="5" height="8" rx="1" fill="#fff" stroke="#131722" stroke-width="1.3"/></svg>
<div class="a" style="left:294px;top:7px;width:1px;height:20px;background:#eee"></div>
<svg class="ic" style="left:308px;top:5px" width="21" height="20" viewBox="0 0 21 20"><path d="M1,8L6,4L10,7L19,1" stroke="#131722" stroke-width="1.3" fill="none"/><rect x="1.5" y="14" width="4" height="5" stroke="#131722" stroke-width="1.2" fill="none"/><rect x="6.5" y="11" width="4" height="8" stroke="#131722" stroke-width="1.2" fill="none"/><rect x="11.5" y="12" width="4" height="7" stroke="#131722" stroke-width="1.2" fill="none"/><rect x="16" y="8" width="3.5" height="11" stroke="#131722" stroke-width="1.2" fill="none"/></svg>
<div class="t" style="left:336px;top:8px;font-size:15px">Indicatori</div>
<svg class="ic" style="left:415px;top:12px" width="10" height="8" viewBox="0 0 10 8"><path d="M1.5,2L5,5.5L8.5,2" stroke="#131722" stroke-width="1.3" fill="none"/></svg>
<svg class="ic" style="left:442px;top:7px" width="18" height="18" viewBox="0 0 18 18"><rect x="1" y="1" width="6.5" height="6.5" rx="1.5" stroke="#131722" stroke-width="1.3" fill="none"/><rect x="10.5" y="1" width="6.5" height="6.5" rx="1.5" stroke="#131722" stroke-width="1.3" fill="none"/><rect x="1" y="10.5" width="6.5" height="6.5" rx="1.5" stroke="#131722" stroke-width="1.3" fill="none"/><rect x="10.5" y="10.5" width="6.5" height="6.5" rx="1.5" stroke="#131722" stroke-width="1.3" fill="none"/></svg>
<div class="a" style="left:475px;top:7px;width:1px;height:20px;background:#eee"></div>
<svg class="ic" style="left:487px;top:5px" width="23" height="23" viewBox="0 0 23 23"><path d="M17,11A7.5,7.5 0 1 0 10,18.5" stroke="#131722" stroke-width="1.3" fill="none"/><path d="M10,6.5V11H13" stroke="#131722" stroke-width="1.3" fill="none"/><path d="M1.5,4.5L4.5,1.5M18,1.5L21,4.5" stroke="#131722" stroke-width="1.3"/><path d="M17,14V22M13,18H21" stroke="#131722" stroke-width="1.3"/></svg>
<div class="t" style="left:517px;top:8px;font-size:15px">Alert</div>
<svg class="ic" style="left:571px;top:8px" width="18" height="16" viewBox="0 0 18 16"><path d="M1.5,8L8.3,2.2V13.8Z M8.3,8L15.3,2.2V13.8Z" stroke="#131722" stroke-width="1.3" fill="none" stroke-linejoin="round"/></svg>
<div class="t" style="left:596px;top:8px;font-size:15px">Replay</div>
<div class="a" style="left:655px;top:7px;width:1px;height:20px;background:#eee"></div>
<svg class="ic" style="left:671px;top:8px" width="16" height="12" viewBox="0 0 16 12"><path d="M5,1L1,5L5,9M1,5H10A5,5 0 0 1 15,10V11" stroke="#131722" stroke-width="1.3" fill="none"/></svg>
<svg class="ic" style="left:710px;top:8px" width="16" height="12" viewBox="0 0 16 12"><path d="M11,1L15,5L11,9M15,5H6A5,5 0 0 0 1,10V11" stroke="#b2b5be" stroke-width="1.3" fill="none"/></svg>

<svg class="ic" style="left:1040px;top:6px" width="20" height="20" viewBox="0 0 20 20"><rect x="0.75" y="0.75" width="18.5" height="18.5" rx="2" stroke="#131722" stroke-width="1.3" fill="none"/></svg>
<div class="t" style="left:1074px;top:9px;font-size:13.5px">ETHEREUM</div>
<svg class="ic" style="left:1164px;top:11px" width="10" height="8" viewBox="0 0 10 8"><path d="M1.5,2L5,5.5L8.5,2" stroke="#131722" stroke-width="1.3" fill="none"/></svg>
<div class="a" style="left:1184px;top:4px;width:23px;height:23px;border-radius:50%;background:#262626"></div>
<div class="t" style="left:1192px;top:11px;font-size:9px;color:#fff">E</div>
<div class="a" style="left:1213px;top:4px;width:23px;height:23px;border-radius:50%;background:#fff;border:1px solid #eee"></div>
<div class="t" style="left:1220px;top:11px;font-size:9px;color:#131722">N</div>
<div class="a" style="left:1250px;top:7px;width:1px;height:20px;background:#eee"></div>
<svg class="ic" style="left:1262px;top:4px" width="22" height="22" viewBox="0 0 22 22"><path d="M15.5,10A7.5,7.5 0 1 1 10,2.5" stroke="#131722" stroke-width="1.3" fill="none"/><path d="M11,1L7.5,9H11L9.5,15L14,6.5H10.5L12,1Z" stroke="#131722" stroke-width="1.2" fill="none" stroke-linejoin="round"/><path d="M14.5,15L20,20.5" stroke="#131722" stroke-width="1.4"/></svg>
<svg class="ic" style="left:1301px;top:4px" width="24" height="22" viewBox="0 0 24 22"><path d="M6.5,1.5H17.5L23,11L17.5,20.5H6.5L1,11Z" stroke="#131722" stroke-width="1.3" fill="none" stroke-linejoin="round"/><circle cx="12" cy="11" r="3.5" stroke="#131722" stroke-width="1.3" fill="none"/></svg>
<svg class="ic" style="left:1342px;top:6px" width="19" height="19" viewBox="0 0 19 19"><path d="M1,6V3A2,2 0 0 1 3,1H6M13,1H16A2,2 0 0 1 18,3V6M18,13V16A2,2 0 0 1 16,18H13M6,18H3A2,2 0 0 1 1,16V13" stroke="#131722" stroke-width="1.3" fill="none"/></svg>
<svg class="ic" style="left:1378px;top:5px" width="23" height="20" viewBox="0 0 23 20"><path d="M1,5.5A1.5,1.5 0 0 1 2.5,4H6.5L8.5,1H14.5L16.5,4H20.5A1.5,1.5 0 0 1 22,5.5V17.5A1.5,1.5 0 0 1 20.5,19H2.5A1.5,1.5 0 0 1 1,17.5Z" stroke="#131722" stroke-width="1.3" fill="none"/><circle cx="11.5" cy="11" r="4" stroke="#131722" stroke-width="1.3" fill="none"/></svg>
<div class="a" style="left:1413px;top:2px;width:82px;height:28px;border-radius:14px;background:#262626"></div>
<div class="t" style="left:1426px;top:8px;font-size:14.5px;color:#fff">Pubblica</div>

<!-- LEFT TOOLBAR -->
<div class="a" style="left:10px;top:47px;width:34px;height:34px;border-radius:7px;background:#ebebeb"></div>
<svg class="ic" style="left:13px;top:50px" width="28" height="28" viewBox="0 0 28 28"><path d="M14,3V11M14,17V25M3,14H11M17,14H25" stroke="#131722" stroke-width="1.4"/></svg>
<svg class="ic" style="left:13px;top:90px" width="26" height="26" viewBox="0 0 26 26"><path d="M5.5,20.5L20.5,5.5" stroke="#131722" stroke-width="1.3" fill="none" stroke-linecap="round" stroke-linejoin="round"/><circle cx="4" cy="22" r="2.2" stroke="#131722" stroke-width="1.3" fill="none" stroke-linecap="round" stroke-linejoin="round"/><circle cx="22" cy="4" r="2.2" stroke="#131722" stroke-width="1.3" fill="none" stroke-linecap="round" stroke-linejoin="round"/></svg>
<svg class="ic" style="left:12px;top:129px" width="28" height="24" viewBox="0 0 28 24"><path d="M3.5,2.3H25M3.5,9H22.3M3.5,15.4H25M6.3,21.4H25" stroke="#131722" stroke-width="1.3" fill="none" stroke-linecap="round" stroke-linejoin="round"/><circle cx="24.5" cy="9" r="2.1" stroke="#131722" stroke-width="1.3" fill="none" stroke-linecap="round" stroke-linejoin="round"/><circle cx="4.2" cy="21.4" r="2.1" stroke="#131722" stroke-width="1.3" fill="none" stroke-linecap="round" stroke-linejoin="round"/></svg>
<svg class="ic" style="left:13px;top:168px" width="26" height="25" viewBox="0 0 26 25"><path d="M4.7,21L7.9,3.6L12.2,10.4L19.6,4L23.4,18.5L12.2,10.4L4.7,21" stroke="#131722" stroke-width="1.3" fill="none" stroke-linecap="round" stroke-linejoin="round"/><circle cx="4.7" cy="21" r="2" fill="#fff" stroke="#131722" stroke-width="1.3" fill="none" stroke-linecap="round" stroke-linejoin="round"/><circle cx="7.9" cy="3.6" r="2" fill="#fff" stroke="#131722" stroke-width="1.3" fill="none" stroke-linecap="round" stroke-linejoin="round"/><circle cx="12.2" cy="10.4" r="2" fill="#fff" stroke="#131722" stroke-width="1.3" fill="none" stroke-linecap="round" stroke-linejoin="round"/><circle cx="19.6" cy="4" r="2" fill="#fff" stroke="#131722" stroke-width="1.3" fill="none" stroke-linecap="round" stroke-linejoin="round"/><circle cx="23.4" cy="18.5" r="2" fill="#fff" stroke="#131722" stroke-width="1.3" fill="none" stroke-linecap="round" stroke-linejoin="round"/></svg>
<svg class="ic" style="left:12px;top:207px" width="28" height="24" viewBox="0 0 28 24"><path d="M6.8,4.9H24.4M6.8,14.9H21.7M6.8,20.7H24.4" stroke="#131722" stroke-width="1.3" fill="none" stroke-linecap="round" stroke-linejoin="round"/><circle cx="4.7" cy="4.9" r="2" stroke="#131722" stroke-width="1.3" fill="none" stroke-linecap="round" stroke-linejoin="round"/><circle cx="4.7" cy="14.9" r="2" stroke="#131722" stroke-width="1.3" fill="none" stroke-linecap="round" stroke-linejoin="round"/><circle cx="4.7" cy="20.7" r="2" stroke="#131722" stroke-width="1.3" fill="none" stroke-linecap="round" stroke-linejoin="round"/><circle cx="23.8" cy="14.9" r="2" stroke="#131722" stroke-width="1.3" fill="none" stroke-linecap="round" stroke-linejoin="round"/><path d="M10.5,11.5h.6M14,10.5h.6M17.5,9.5h.6M20.5,8.6h.6" stroke="#131722" stroke-width="1.3" fill="none" stroke-linecap="round" stroke-linejoin="round"/></svg>
<svg class="ic" style="left:13px;top:247px" width="28" height="24" viewBox="0 0 28 24"><path d="M2.5,20.5C3,14 7,10 12,9.5C15,9.3 16.5,12 15,15C13,19 7,20.5 2.5,20.5Z" stroke="#131722" stroke-width="1.3" fill="none" stroke-linecap="round" stroke-linejoin="round"/><path d="M15,11L19,7" stroke="#131722" stroke-width="1.3" fill="none" stroke-linecap="round" stroke-linejoin="round"/><path d="M20,8C22,9 25,6 26,3" stroke="#131722" stroke-width="1.3" fill="none" stroke-linecap="round" stroke-linejoin="round"/></svg>
<svg class="ic" style="left:16px;top:286px" width="22" height="22" viewBox="0 0 22 22"><path d="M2,3.5V2H20V3.5M11,2V20M8,20H14" stroke="#131722" stroke-width="1.3" fill="none"/></svg>
<svg class="ic" style="left:13px;top:325px" width="27" height="24" viewBox="0 0 27 24"><path d="M13.5,22L3.5,12.5C0,9 1,3 6.5,2.3C9.5,2 12,3.5 13.5,6C15,3.5 17.5,2 20.5,2.3C26,3 27,9 23.5,12.5Z" stroke="#131722" stroke-width="1.3" fill="none" stroke-linecap="round" stroke-linejoin="round"/></svg>
<div class="a" style="left:9px;top:361px;width:36px;height:1px;background:#ececec"></div>
<svg class="ic" style="left:13px;top:373px" width="26" height="26" viewBox="0 0 26 26"><path d="M2.5,18.5L18.5,2.5L23.5,7.5L7.5,23.5Z" stroke="#131722" stroke-width="1.3" fill="none" stroke-linecap="round" stroke-linejoin="round"/><path d="M7,14L9.5,16.5M10,11L11.8,12.8M13,8L15.5,10.5M16,5L17.8,6.8" stroke="#131722" stroke-width="1.3" fill="none" stroke-linecap="round" stroke-linejoin="round"/></svg>
<svg class="ic" style="left:14px;top:414px" width="24" height="24" viewBox="0 0 24 24"><circle cx="10.5" cy="10.5" r="8" stroke="#131722" stroke-width="1.3" fill="none" stroke-linecap="round" stroke-linejoin="round"/><path d="M16.5,16.5L21,21M10.5,7V14M7,10.5H14" stroke="#131722" stroke-width="1.3" fill="none" stroke-linecap="round" stroke-linejoin="round"/></svg>
<div class="a" style="left:9px;top:452px;width:36px;height:1px;background:#ececec"></div>
<svg class="ic" style="left:15px;top:466px" width="22" height="24" viewBox="0 0 22 24"><path d="M3,22V11A8,8 0 0 1 19,11V22H14.5V11A3.5,3.5 0 0 0 7.5,11V22Z" stroke="#131722" stroke-width="1.3" fill="none" stroke-linecap="round" stroke-linejoin="round"/><path d="M3,18.5H7.5M14.5,18.5H19" stroke="#131722" stroke-width="1.3" fill="none" stroke-linecap="round" stroke-linejoin="round"/></svg>
<svg class="ic" style="left:13px;top:505px" width="27" height="26" viewBox="0 0 27 26"><path d="M3,19L15,5L19,8.5L7,22.5L2.5,23.5Z" stroke="#131722" stroke-width="1.3" fill="none" stroke-linecap="round" stroke-linejoin="round"/><path d="M13,7.5L17,11" stroke="#131722" stroke-width="1.3" fill="none" stroke-linecap="round" stroke-linejoin="round"/><rect x="16" y="16.5" width="8.5" height="7" rx="1.2" stroke="#131722" stroke-width="1.3" fill="none" stroke-linecap="round" stroke-linejoin="round"/><path d="M18,16.5V14.5A2.2,2.2 0 0 1 22.4,14.5" stroke="#131722" stroke-width="1.3" fill="none" stroke-linecap="round" stroke-linejoin="round"/></svg>
<svg class="ic" style="left:15px;top:544px" width="22" height="26" viewBox="0 0 22 26"><rect x="2" y="11" width="17" height="12.5" rx="2" stroke="#131722" stroke-width="1.3" fill="none" stroke-linecap="round" stroke-linejoin="round"/><path d="M5.5,11V7A5,5 0 0 1 15,5" stroke="#131722" stroke-width="1.3" fill="none" stroke-linecap="round" stroke-linejoin="round"/><circle cx="10.5" cy="17" r="1" fill="#131722"/></svg>
<svg class="ic" style="left:13px;top:582px" width="28" height="26" viewBox="0 0 28 26"><path d="M2,10C6,3 18,3 22,10C18,17 6,17 2,10Z" stroke="#131722" stroke-width="1.3" fill="none" stroke-linecap="round" stroke-linejoin="round"/><circle cx="12" cy="10" r="3.5" stroke="#131722" stroke-width="1.3" fill="none" stroke-linecap="round" stroke-linejoin="round"/><path d="M17,22L19,19.5M19,21.5L22,18.5M16.5,23L24,20" stroke="#131722" stroke-width="1.3" fill="none" stroke-linecap="round" stroke-linejoin="round"/></svg>
<svg class="ic" style="left:14px;top:622px" width="24" height="24" viewBox="0 0 24 24"><path d="M10,6.5L12.5,4A4.2,4.2 0 0 1 19,10.5L16,13.5M8,10.5L5,13.5A4.2,4.2 0 0 0 11.5,20L14,17.5M9,15L15,9" stroke="#131722" stroke-width="1.3" fill="none" stroke-linecap="round" stroke-linejoin="round"/></svg>
<div class="a" style="left:9px;top:661px;width:36px;height:1px;background:#ececec"></div>
<svg class="ic" style="left:15px;top:674px" width="22" height="24" viewBox="0 0 22 24"><path d="M2,4.5H20M8,4.5V2H14V4.5M4,4.5L5.5,22H16.5L18,4.5" stroke="#131722" stroke-width="1.3" fill="none" stroke-linecap="round" stroke-linejoin="round"/></svg>


<!-- LEGEND -->
<div class="a" style="left:66px;top:45.5px;width:19px;height:19px;border-radius:50%;background:#3c51a0"></div>
<svg class="ic" style="left:66px;top:45.5px" width="19" height="19" viewBox="0 0 19 19"><path d="M9.5,3.5L13.5,9.5L9.5,15.5L5.5,9.5Z" fill="#b9c4f0" stroke="#fff" stroke-width="0.8"/></svg>
<div class="t" style="left:89px;top:48px;font-size:15.9px;color:#131722">Ethereum / Dollaro · 1h · KRAKEN</div>
<div class="a" style="left:349px;top:48px;width:15px;height:15px;border-radius:50%;background:#d9f0ea"></div>
<div class="a" style="left:353px;top:52px;width:7px;height:7px;border-radius:50%;background:#1f9a82"></div>
<div class="t" style="left:382px;top:48px;font-size:14.33px;color:#131722">O - Aper.<span style="color:#d27467">4.432,61</span> &nbsp;H - Max.<span style="color:#d27467">4.440,64</span> &nbsp;L - Min.<span style="color:#d27467">4.409,01</span> &nbsp;C - Chius.<span style="color:#d27467">4.410,97 &nbsp;−22,27 (−0,50%)</span></div>


<!-- buy/sell -->
<div class="a" style="left:65.5px;top:72px;width:78px;height:34px;border:1px solid #d9a0a0;border-radius:5px"></div>
<div class="t" style="left:77px;top:76px;font-size:12.2px;font-weight:700;color:#c94d5d;letter-spacing:1.2px">4.410,97</div>
<div class="t" style="left:87px;top:91px;font-size:10.5px;color:#c0606b;letter-spacing:1.3px">VENDI</div>
<div class="t" style="left:153px;top:84px;font-size:11px;color:#131722">0,01</div>
<div class="a" style="left:183.5px;top:72px;width:78px;height:34px;border:1px solid #6f8fc9;border-radius:5px"></div>
<div class="t" style="left:195px;top:76px;font-size:12.2px;font-weight:700;color:#4a6fb5;letter-spacing:1.3px">4.410,98</div>
<div class="t" style="left:197px;top:91px;font-size:10.5px;color:#4a6fb5;letter-spacing:0.9px">COMPRA</div>
<div class="t" style="left:66.8px;top:116.9px;font-size:13.2px;color:#b9bbc0;">Vol · ETH</div>
<svg class="ic" style="left:132px;top:115.5px" width="18" height="14" viewBox="0 0 18 14"><path d="M1.5,7C4.5,1.5 13.5,1.5 16.5,7C13.5,12.5 4.5,12.5 1.5,7Z" stroke="#666a72" stroke-width="1.4" fill="none"/><circle cx="9" cy="7" r="2.6" stroke="#666a72" stroke-width="1.4" fill="none"/><path d="M3,13L15,1" stroke="#666a72" stroke-width="1.4"/></svg>
<div class="t" style="left:66.5px;top:142.4px;font-size:12.6px;color:#131722;letter-spacing:0.85px">MA 233 close 5</div>
<div class="a" style="left:172.5px;top:138.5px;width:18px;height:18px;border-radius:50%;background:#ece3fb"></div><svg class="ic" style="left:172.5px;top:138.5px" width="18" height="18" viewBox="0 0 18 18"><path d="M4.5,8A4.8,4.8 0 0 1 13.3,7M13.5,10A4.8,4.8 0 0 1 4.7,11" stroke="#7b4fd6" stroke-width="1.5" fill="none"/><path d="M13.8,4.5V7.5H10.8M4.2,13.5V10.5H7.2" stroke="#7b4fd6" stroke-width="1.5" fill="none"/></svg>
<div class="t" style="left:198.7px;top:142.4px;font-size:12.6px;color:#cf4f7c;letter-spacing:0.85px">4.458,55</div>
<div class="t" style="left:66.5px;top:166.9px;font-size:12.6px;color:#131722;letter-spacing:0.85px">SMA 120 close 0 SMA 5</div>
<div class="a" style="left:225.5px;top:163px;width:18px;height:18px;border-radius:50%;background:#ece3fb"></div><svg class="ic" style="left:225.5px;top:163px" width="18" height="18" viewBox="0 0 18 18"><path d="M4.5,8A4.8,4.8 0 0 1 13.3,7M13.5,10A4.8,4.8 0 0 1 4.7,11" stroke="#7b4fd6" stroke-width="1.5" fill="none"/><path d="M13.8,4.5V7.5H10.8M4.2,13.5V10.5H7.2" stroke="#7b4fd6" stroke-width="1.5" fill="none"/></svg>
<div class="t" style="left:252.4px;top:166.9px;font-size:12.6px;color:#131722;letter-spacing:0.85px">4.581,81</div>
<div class="t" style="left:66.5px;top:191.4px;font-size:12.6px;color:#131722;letter-spacing:0.85px">SMA 14 close 0 SMA 5</div>
<div class="a" style="left:217.5px;top:187.5px;width:18px;height:18px;border-radius:50%;background:#ece3fb"></div><svg class="ic" style="left:217.5px;top:187.5px" width="18" height="18" viewBox="0 0 18 18"><path d="M4.5,8A4.8,4.8 0 0 1 13.3,7M13.5,10A4.8,4.8 0 0 1 4.7,11" stroke="#7b4fd6" stroke-width="1.5" fill="none"/><path d="M13.8,4.5V7.5H10.8M4.2,13.5V10.5H7.2" stroke="#7b4fd6" stroke-width="1.5" fill="none"/></svg>
<div class="t" style="left:243.7px;top:191.4px;font-size:12.6px;color:#3f6fb5;letter-spacing:0.85px">4.420,91</div>
<div class="t" style="left:66.5px;top:215.9px;font-size:12.6px;color:#131722;letter-spacing:0.85px">SMA 55 close 0 SMA 10</div>
<div class="a" style="left:225.5px;top:212px;width:18px;height:18px;border-radius:50%;background:#ece3fb"></div><svg class="ic" style="left:225.5px;top:212px" width="18" height="18" viewBox="0 0 18 18"><path d="M4.5,8A4.8,4.8 0 0 1 13.3,7M13.5,10A4.8,4.8 0 0 1 4.7,11" stroke="#7b4fd6" stroke-width="1.5" fill="none"/><path d="M13.8,4.5V7.5H10.8M4.2,13.5V10.5H7.2" stroke="#7b4fd6" stroke-width="1.5" fill="none"/></svg>
<div class="t" style="left:252.4px;top:215.9px;font-size:12.6px;color:#dc4c4c;letter-spacing:0.85px">4.653,47</div>
<div class="t" style="left:66.8px;top:240.4px;font-size:12.6px;color:#b9bbc0;letter-spacing:0.55px">SuperTrend 10 3,5 hl2</div>
<svg class="ic" style="left:214.5px;top:238.5px" width="18" height="14" viewBox="0 0 18 14"><path d="M1.5,7C4.5,1.5 13.5,1.5 16.5,7C13.5,12.5 4.5,12.5 1.5,7Z" stroke="#666a72" stroke-width="1.4" fill="none"/><circle cx="9" cy="7" r="2.6" stroke="#666a72" stroke-width="1.4" fill="none"/><path d="M3,13L15,1" stroke="#666a72" stroke-width="1.4"/></svg>
<div class="a" style="left:65.5px;top:260.5px;width:29px;height:20.5px;border:1px solid #e6e6e6;border-radius:4px;background:#fff"></div>
<svg class="ic" style="left:74px;top:266px" width="12" height="8" viewBox="0 0 12 8"><path d="M2,6L6,2L10,6" stroke="#131722" stroke-width="1.4" fill="none"/></svg>


<!-- price axis -->
<div class="a" style="left:1381px;top:44px;width:64px;height:25px;border:1px solid #f0f0f0;border-radius:5px"></div>
<div class="t" style="left:1385px;top:50px;font-size:12.5px">USD</div>
<svg class="ic" style="left:1434px;top:53px" width="9" height="6" viewBox="0 0 9 6"><path d="M1.5,1.5L4.5,4.5L7.5,1.5" stroke="#131722" stroke-width="1.4" fill="none"/></svg>
<div class="t" style="left:1385.5px;top:94.6px;font-size:13.3px;color:#131722;letter-spacing:0.45px">5.000,00</div>
<div class="t" style="left:1385.5px;top:145.1px;font-size:13.3px;color:#131722;letter-spacing:0.45px">4.800,00</div>
<div class="t" style="left:1385.5px;top:195.6px;font-size:13.3px;color:#131722;letter-spacing:0.45px">4.600,00</div>
<div class="t" style="left:1385.5px;top:296.6px;font-size:13.3px;color:#131722;letter-spacing:0.45px">4.200,00</div>
<div class="t" style="left:1385.5px;top:347.1px;font-size:13.3px;color:#131722;letter-spacing:0.45px">4.000,00</div>
<div class="t" style="left:1385.5px;top:397.6px;font-size:13.3px;color:#131722;letter-spacing:0.45px">3.800,00</div>
<div class="t" style="left:1385.5px;top:448.1px;font-size:13.3px;color:#131722;letter-spacing:0.45px">3.600,00</div>
<div class="t" style="left:1385.5px;top:498.6px;font-size:13.3px;color:#131722;letter-spacing:0.45px">3.400,00</div>
<div class="t" style="left:1385.5px;top:549.1px;font-size:13.3px;color:#131722;letter-spacing:0.45px">3.200,00</div>
<div class="t" style="left:1385.5px;top:599.6px;font-size:13.3px;color:#131722;letter-spacing:0.45px">3.000,00</div>
<div class="t" style="left:1385.5px;top:650.1px;font-size:13.3px;color:#131722;letter-spacing:0.45px">2.800,00</div>
<div class="t" style="left:1385.5px;top:700.6px;font-size:13.3px;color:#131722;letter-spacing:0.45px">2.600,00</div>
<div class="t" style="left:1385.5px;top:751.1px;font-size:13.3px;color:#131722;letter-spacing:0.45px">2.400,00</div>

<div class="a" style="left:1377px;top:243px;width:68px;height:31px;background:#ef4b4b;border-radius:2px"></div>
<div class="t" style="left:1386px;top:245.5px;font-size:13.2px;color:#fff;letter-spacing:0.6px">4.410,97</div>
<div class="t" style="left:1386px;top:259.5px;font-size:13.2px;color:#fff;letter-spacing:0.6px">03:46</div>

<!-- time axis -->
<div class="t" style="left:-23px;width:200px;text-align:center;top:793.2px;font-size:13px;color:#131722;">11</div>
<div class="t" style="left:54px;width:200px;text-align:center;top:793.2px;font-size:13px;color:#131722;">14</div>
<div class="t" style="left:130px;width:200px;text-align:center;top:793.2px;font-size:13px;color:#131722;">17</div>
<div class="t" style="left:207px;width:200px;text-align:center;top:793.2px;font-size:13px;color:#131722;">20</div>
<div class="t" style="left:283px;width:200px;text-align:center;top:793.2px;font-size:13px;color:#131722;">23</div>
<div class="t" style="left:360px;width:200px;text-align:center;top:793.2px;font-size:13px;color:#131722;">26</div>
<div class="t" style="left:436px;width:200px;text-align:center;top:793.2px;font-size:13px;color:#131722;">29</div>
<div class="t" style="left:513px;width:200px;text-align:center;top:793.2px;font-size:13px;color:#131722;font-weight:700">Ago</div>
<div class="t" style="left:589px;width:200px;text-align:center;top:793.2px;font-size:13px;color:#131722;">4</div>
<div class="t" style="left:666px;width:200px;text-align:center;top:793.2px;font-size:13px;color:#131722;">7</div>
<div class="t" style="left:743px;width:200px;text-align:center;top:793.2px;font-size:13px;color:#131722;">10</div>
<div class="t" style="left:819px;width:200px;text-align:center;top:793.2px;font-size:13px;color:#131722;">13</div>
<div class="t" style="left:896px;width:200px;text-align:center;top:793.2px;font-size:13px;color:#131722;">16</div>
<div class="t" style="left:972px;width:200px;text-align:center;top:793.2px;font-size:13px;color:#131722;">19</div>
<div class="t" style="left:1049px;width:200px;text-align:center;top:793.2px;font-size:13px;color:#131722;">22</div>
<div class="t" style="left:1125px;width:200px;text-align:center;top:793.2px;font-size:13px;color:#131722;">25</div>
<div class="t" style="left:1202px;width:200px;text-align:center;top:793.2px;font-size:13px;color:#131722;">28</div>

<svg class="ic" style="left:1406px;top:792px" width="16" height="15" viewBox="0 0 16 15"><path d="M4.3,1H11.7L15.3,7.5L11.7,14H4.3L0.7,7.5Z" stroke="#131722" stroke-width="1.2" fill="none" stroke-linejoin="round"/><circle cx="8" cy="7.5" r="2.3" stroke="#131722" stroke-width="1.2" fill="none"/></svg>
<div class="a" style="left:57px;top:785px;width:1px;height:1px"></div>

<!-- range bar -->
<div class="t" style="left:72px;top:827.6px;font-size:14.3px;color:#131722;">1D</div>
<div class="t" style="left:102.3px;top:827.6px;font-size:14.3px;color:#131722;">5D</div>
<div class="t" style="left:134.5px;top:827.6px;font-size:14.3px;color:#131722;">1M</div>
<div class="t" style="left:167.6px;top:827.6px;font-size:14.3px;color:#131722;">3M</div>
<div class="t" style="left:201px;top:827.6px;font-size:14.3px;color:#131722;">6M</div>
<div class="t" style="left:234.7px;top:827.6px;font-size:14.3px;color:#131722;">YTD</div>
<div class="t" style="left:276.4px;top:827.6px;font-size:14.3px;color:#131722;">1Y</div>
<div class="t" style="left:305.2px;top:827.6px;font-size:14.3px;color:#131722;">5Y</div>
<div class="t" style="left:336.6px;top:827.6px;font-size:14.3px;color:#131722;">Tutto</div>
<div class="a" style="left:380px;top:823px;width:1px;height:22px;background:#ececec"></div>
<svg class="ic" style="left:393px;top:824px" width="22" height="21" viewBox="0 0 22 21"><path d="M10,19H3.5A1.8,1.8 0 0 1 1.8,17.2V4.8A1.8,1.8 0 0 1 3.5,3H18.5A1.8,1.8 0 0 1 20.2,4.8V17.2A1.8,1.8 0 0 1 18.5,19H16M1.8,7.5H20.2M6,1V5M16,1V5M2,14.5H11M8.5,12L11,14.5L8.5,17" stroke="#131722" stroke-width="1.3" fill="none" stroke-linecap="round" stroke-linejoin="round"/></svg>
<div class="t" style="left:1239px;width:200px;text-align:right;top:827.3px;font-size:15px;color:#131722;">08:56:13 UTC+2</div>


<!-- bottom tabs -->
<div class="t" style="left:73px;top:869.6px;font-size:14.8px;color:#131722;">Editor Pine</div>
<div class="t" style="left:178.4px;top:869.6px;font-size:14.8px;color:#131722;">Tester strategia</div>
<div class="t" style="left:313px;top:869.6px;font-size:14.8px;color:#131722;">Replay trading</div>
<div class="t" style="left:440.6px;top:869.6px;font-size:14.8px;color:#131722;">Pannello trading</div>
<svg class="ic" style="left:1384px;top:869px" width="20" height="12" viewBox="0 0 20 12"><path d="M1.5,10L10,2L18.5,10" stroke="#131722" stroke-width="1.3" fill="none" stroke-linecap="round" stroke-linejoin="round"/></svg>
<svg class="ic" style="left:1421px;top:867px" width="19" height="19" viewBox="0 0 19 19"><path d="M1,6V3A2,2 0 0 1 3,1H6M13,1H16A2,2 0 0 1 18,3V6M18,13V16A2,2 0 0 1 16,18H13M6,18H3A2,2 0 0 1 1,16V13" stroke="#131722" stroke-width="1.3" fill="none" stroke-linecap="round" stroke-linejoin="round"/></svg>


<!-- RIGHT SIDEBAR -->
<svg class="ic" style="left:1466px;top:51px" width="22" height="25" viewBox="0 0 22 25"><path d="M1.5,1.5H20.5V23.5L11,19.5L1.5,23.5Z" stroke="#131722" stroke-width="1.3" fill="none" stroke-linecap="round" stroke-linejoin="round"/><path d="M5.5,7H16.5M5.5,10.8H16.5M5.5,14.6H16.5" stroke="#131722" stroke-width="1.3" fill="none" stroke-linecap="round" stroke-linejoin="round"/></svg>
<svg class="ic" style="left:1464px;top:97px" width="26" height="26" viewBox="0 0 26 26"><circle cx="12.5" cy="13.5" r="10.5" stroke="#131722" stroke-width="1.3" fill="none" stroke-linecap="round" stroke-linejoin="round"/><path d="M12.5,9V15H8" stroke="#131722" stroke-width="1.3" fill="none" stroke-linecap="round" stroke-linejoin="round"/><path d="M2,5L5,2" stroke="#131722" stroke-width="1.3" fill="none" stroke-linecap="round" stroke-linejoin="round"/></svg>
<div class="a" style="left:1472px;top:91px;width:24px;height:16px;border-radius:8px;background:#e0323f;border:1.5px solid #fff"></div>
<div class="t" style="left:1478px;top:93.5px;font-size:11px;color:#fff;">41</div>
<svg class="ic" style="left:1465px;top:145px" width="25" height="24" viewBox="0 0 25 24"><path d="M12.5,2L23,8.5L12.5,15L2,8.5Z" stroke="#131722" stroke-width="1.3" fill="none" stroke-linecap="round" stroke-linejoin="round"/><path d="M2,14.5L12.5,21L23,14.5" stroke="#131722" stroke-width="1.3" fill="none" stroke-linecap="round" stroke-linejoin="round"/></svg>
<svg class="ic" style="left:1464px;top:191px" width="26" height="26" viewBox="0 0 26 26"><path d="M2,2H18V14H8L3.5,17.5V14H2Z" stroke="#131722" stroke-width="1.3" fill="none" stroke-linecap="round" stroke-linejoin="round"/><path d="M21,8H24V19.5H22.5V23L18.5,19.5H10V17" stroke="#131722" stroke-width="1.3" fill="none" stroke-linecap="round" stroke-linejoin="round"/></svg>
<svg class="ic" style="left:1462px;top:610px" width="30" height="30" viewBox="0 0 30 30"><circle cx="15" cy="15" r="13" stroke="#131722" stroke-width="1.3" fill="none" stroke-linecap="round" stroke-linejoin="round"/><circle cx="15" cy="15" r="8" stroke="#131722" stroke-width="1.3" fill="none" stroke-linecap="round" stroke-linejoin="round"/><circle cx="15" cy="15" r="2.5" stroke="#131722" stroke-width="1.3" fill="none" stroke-linecap="round" stroke-linejoin="round"/><path d="M15,15L22,8" stroke="#131722" stroke-width="1.3" fill="none" stroke-linecap="round" stroke-linejoin="round"/></svg>
<svg class="ic" style="left:1464px;top:659px" width="26" height="27" viewBox="0 0 26 27"><rect x="2" y="4" width="22" height="20.5" rx="3" stroke="#131722" stroke-width="1.3" fill="none" stroke-linecap="round" stroke-linejoin="round"/><path d="M2,9.5H24M8,1.5V6M18,1.5V6" stroke="#131722" stroke-width="1.3" fill="none" stroke-linecap="round" stroke-linejoin="round"/></svg>
<div class="a" style="left:1460px;top:702px;width:35px;height:35px;border-radius:50%;background:#222"></div>
<svg class="ic" style="left:1460px;top:702px" width="35" height="35" viewBox="0 0 35 35"><rect x="8.2" y="8.2" width="4.4" height="4.4" rx="0.9" fill="#fff"/><rect x="8.2" y="15.3" width="4.4" height="4.4" rx="0.9" fill="#fff"/><rect x="8.2" y="22.4" width="4.4" height="4.4" rx="0.9" fill="#fff"/><rect x="15.3" y="8.2" width="4.4" height="4.4" rx="0.9" fill="#fff"/><rect x="15.3" y="15.3" width="4.4" height="4.4" rx="0.9" fill="#fff"/><rect x="15.3" y="22.4" width="4.4" height="4.4" rx="0.9" fill="#fff"/><rect x="22.4" y="8.2" width="4.4" height="4.4" rx="0.9" fill="#fff"/><rect x="22.4" y="15.3" width="4.4" height="4.4" rx="0.9" fill="#fff"/><rect x="22.4" y="22.4" width="4.4" height="4.4" rx="0.9" fill="#fff"/></svg>
<div class="a" style="left:1460px;top:745px;width:35px;height:1px;background:#ececec"></div>
<svg class="ic" style="left:1464px;top:759px" width="26" height="28" viewBox="0 0 26 28"><circle cx="4.5" cy="23.5" r="1.6" stroke="#131722" stroke-width="1.3" fill="none" stroke-linecap="round" stroke-linejoin="round"/><path d="M3.5,16.5A7.5,7.5 0 0 1 11,24M3.5,11A13,13 0 0 1 16.5,24M3.5,5.5A18.5,18.5 0 0 1 22,24" stroke="#131722" stroke-width="1.3" fill="none" stroke-linecap="round" stroke-linejoin="round"/></svg>
<div class="a" style="left:1471px;top:758px;width:26px;height:17px;border-radius:8.5px;background:#e0323f;border:1.5px solid #fff"></div>
<div class="t" style="left:1477px;top:761px;font-size:11.5px;color:#fff;">66</div>
<svg class="ic" style="left:1465px;top:810px" width="24" height="28" viewBox="0 0 24 28"><path d="M3,21.5H21L19,19.5V12A7,7 0 0 0 5,12V19.5Z" stroke="#131722" stroke-width="1.3" fill="none" stroke-linecap="round" stroke-linejoin="round"/><path d="M2,21.5H22M9.5,21.5A2.5,2.5 0 0 0 14.5,21.5M12,5V3.5" stroke="#131722" stroke-width="1.3" fill="none" stroke-linecap="round" stroke-linejoin="round"/></svg>
<svg class="ic" style="left:1461px;top:855px" width="33" height="33" viewBox="0 0 33 33"><path d="M26,10A13,13 0 1 1 21,4.5" stroke="#131722" stroke-width="1.3" fill="none" stroke-linecap="round" stroke-linejoin="round"/><path d="M12,12.5A4,4 0 1 1 17,16.5C16,17 16,18.5 16,19.5" stroke="#131722" stroke-width="1.3" fill="none" stroke-linecap="round" stroke-linejoin="round"/><circle cx="16" cy="23.5" r="1" fill="#131722"/><path d="M27.5,1.5L29,4.5L32,6L29,7.5L27.5,10.5L26,7.5L23,6L26,4.5Z" stroke="#131722" stroke-width="1.3" fill="none" stroke-linecap="round" stroke-linejoin="round"/><path d="M4.5,22L5.5,24L7.5,25L5.5,26L4.5,28L3.5,26L1.5,25L3.5,24Z" stroke="#131722" stroke-width="1.3" fill="none" stroke-linecap="round" stroke-linejoin="round"/></svg>

</body></html>
